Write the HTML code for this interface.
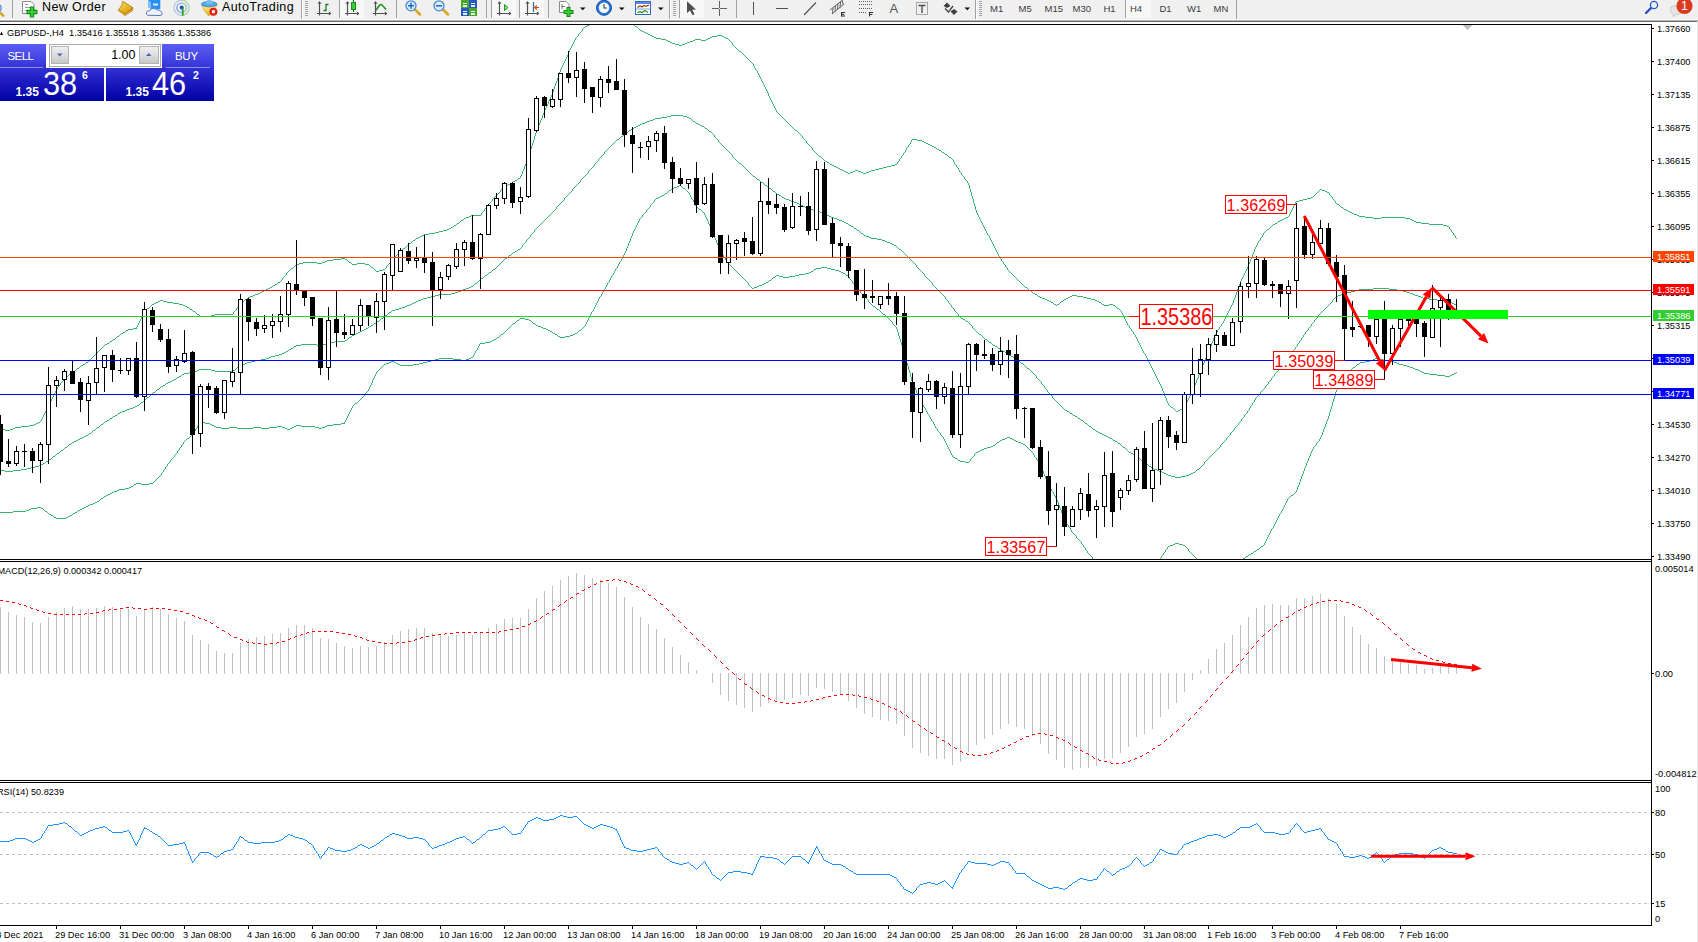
<!DOCTYPE html>
<html><head><meta charset="utf-8"><title>GBPUSD-,H4</title>
<style>
html,body{margin:0;padding:0;background:#fff;}
body{width:1698px;height:942px;position:relative;overflow:hidden;font-family:"Liberation Sans",sans-serif;color:#000;}
.ax{position:absolute;font-size:9.25px;line-height:10px;white-space:nowrap;color:#000;}
.rl{position:absolute;color:#FF0000;text-align:center;white-space:nowrap;}
.tb{position:absolute;left:0;top:0;width:1698px;height:20px;background:#f0f0f0;}
.tt{position:absolute;white-space:nowrap;color:#000;}
.tf{position:absolute;font-size:9.5px;line-height:12px;top:2.7px;color:#3c3c3c;white-space:nowrap;}
.pn{position:absolute;color:#fff;white-space:nowrap;}
</style></head><body>
<svg width="1698" height="942" viewBox="0 0 1698 942" style="position:absolute;left:0;top:0" shape-rendering="crispEdges">
<defs><clipPath id="cm"><rect x="0" y="25" width="1651" height="534"/></clipPath><clipPath id="c2"><rect x="0" y="562" width="1651" height="218"/></clipPath><clipPath id="c3"><rect x="0" y="783" width="1651" height="142"/></clipPath></defs>
<g clip-path="url(#cm)"><g shape-rendering="crispEdges"><path d="M264 290.5h2M1029 290.5h2M333 259.5h8M345 259.5h2M250 296.5h3M1038 296.5h2M1070 296.5h2M1077 296.5h6M840 169.5h2M875 169.5h4M466 217.5h3M1286 217.5h2M1365 217.5h8M1381 217.5h24M1282 219.5h2M1410 219.5h2M469 216.5h2M1359 216.5h6M424 234.5h5M187 307.5h2M451 227.5h2M1311 197.5h2M303 262.5h14M322 262.5h3M349 262.5h2M200 316.5h11M848 173.5h2M863 173.5h3M670 42.5h2M687 42.5h3M917 140.5h5M1273 224.5h2M1429 224.5h14M1180 409.5h2M154 303.5h2M173 303.5h6M661 39.5h5M695 39.5h6M706 39.5h2M183 305.5h2M1104 305.5h5M1113 305.5h2M248 297.5h2M1040 297.5h2M1068 297.5h2M1083 297.5h4M255 294.5h3M1035 294.5h2M1176 411.5h2M439 231.5h4M515 180.5h2M606 14.5h2M622 14.5h2M299 263.5h4M317 263.5h5M357 263.5h8M409 243.5h2M844 171.5h2M853 171.5h2M858 171.5h3M869 171.5h2M5 430.5h5M156 302.5h2M167 302.5h6M241 302.5h2M1051 302.5h2M1099 302.5h2M846 172.5h2M850 172.5h3M861 172.5h2M866 172.5h3M838 168.5h2M879 168.5h4M457 223.5h2M1275 223.5h2M1421 223.5h8M117 336.5h2M842 170.5h2M855 170.5h3M871 170.5h4M152 304.5h2M179 304.5h4M1054 304.5h2M1057 304.5h2M1102 304.5h2M1109 304.5h4M86 362.5h2M939 150.5h2M197 314.5h2M215 314.5h18M654 37.5h2M710 37.5h2M724 37.5h2M211 315.5h4M126 330.5h2M296 264.5h3M352 264.5h5M365 264.5h4M675 44.5h4M682 44.5h3M1303 199.5h4M1354 214.5h3M825 161.5h2M160 300.5h3M1047 300.5h2M1095 300.5h2M245 299.5h2M1045 299.5h2M1064 299.5h2M1091 299.5h4M1350 212.5h2M827 162.5h2M1352 213.5h2M376 271.5h3M1344 209.5h2M147 308.5h2M1117 308.5h2M193 311.5h2M590 23.5h2M158 301.5h2M163 301.5h4M1049 301.5h2M1061 301.5h2M1097 301.5h2M608 13.5h3M620 13.5h2M949 157.5h2M504 186.5h2M0 429.5h5M10 429.5h3M69 374.5h2M652 36.5h2M712 36.5h5M722 36.5h2M668 41.5h2M690 41.5h3M1447 226.5h2M81 365.5h2M834 166.5h2M887 166.5h4M341 258.5h4M77 368.5h2M471 215.5h10M1357 215.5h2M795 130.5h2M672 43.5h3M685 43.5h2M945 154.5h2M327 260.5h6M461 220.5h2M1280 220.5h2M1412 220.5h2M34 424.5h2M1042 298.5h3M1066 298.5h2M1087 298.5h4M1296 201.5h3M422 235.5h2M600 17.5h2M912 139.5h5M21 426.5h8M383 269.5h2M253 295.5h2M1072 295.5h5M932 146.5h2M830 164.5h2M895 164.5h2M464 218.5h2M1284 218.5h2M1373 218.5h8M1405 218.5h5M1348 211.5h2M1320 189.5h2M418 237.5h2M1341 207.5h2M185 306.5h2M403 248.5h2M666 40.5h2M693 40.5h2M701 40.5h5M443 230.5h4M123 332.5h2M656 38.5h5M708 38.5h2M726 38.5h2M1299 200.5h4M371 267.5h2M1337 204.5h2M518 178.5h2M942 152.5h2M420 236.5h2M379 270.5h4M435 232.5h4M602 16.5h2M278 282.5h2M1416 222.5h5M934 147.5h2M447 229.5h2M1267 229.5h2M105 344.5h2M836 167.5h2M883 167.5h4M1346 210.5h2M416 238.5h2M924 142.5h2M1325 191.5h2M1182 408.5h2M429 233.5h6M29 425.5h5M291 268.5h2M1178 410.5h2M930 145.5h2M15 427.5h6M273 285.5h2M65 377.5h2M1307 198.5h4M922 141.5h2M133 328.5h4M928 144.5h2M128 329.5h5M113 339.5h2M587 25.5h2M510 183.5h2M819 156.5h2M615 11.5h3M1278 221.5h2M1414 221.5h2M190 309.5h2M679 45.5h3M611 12.5h4M618 12.5h2M648 34.5h2M832 165.5h2M891 165.5h4M110 341.5h2M650 35.5h2M717 35.5h5M454 225.5h2M1443 225.5h4M258 293.5h2M1033 293.5h2M598 18.5h2M83 364.5h2M270 287.5h2M1025 287.5h2M926 143.5h2M595 20.5h2M604 15.5h2M642 31.5h2M413 240.5h2M1327 192.5h2M593 21.5h2M640 30.5h2M266 289.5h2M325 261.5h2M937 149.5h2M107 343.5h2M260 292.5h2M1322 190.5h3M121 333.5h2M268 288.5h2M646 33.5h2M585 26.5h2M635 26.5h2M644 32.5h2M13 428.5h2M262 291.5h2M739 51.5h2M73 371.5h2M1171 407.5h2M508 184.5h2M275 284.5h2M38 422.5h2M449 228.5h2M513 181.5h2M506 185.5h2M36 423.5h2M806.5 141v2M900.5 158v1M1134.5 334v1M750.5 61v1M1194.5 385v3M758.5 73v2M956.5 165v2M1155.5 374v2M1339.5 205v1M953.5 160v2M1230.5 307v2M751.5 62v1M548.5 101v3M985.5 229v2M1188.5 398v2M1210.5 346v2M1156.5 376v2M772.5 102v2M373.5 268v1M45.5 411v2M812.5 148v2M284.5 276v1M1270.5 227v1M568.5 52v3M1246.5 269v2M112.5 340v1M907.5 147v1M1166.5 398v3M496.5 195v1M104.5 345v1M1018.5 280v1M1213.5 338v3M402.5 249v1M978.5 215v2M634.5 25v1M1193.5 388v2M234.5 311v1M116.5 337v1M1202.5 365v3M999.5 256v2M971.5 192v4M1010.5 272v1M392.5 259v1M1229.5 309v2M1184.5 406v2M626.5 17v1M41.5 419v2M1331.5 196v1M1163.5 391v2M56.5 389v2M536.5 130v3M764.5 85v2M1126.5 321v2M903.5 153v2M974.5 203v3M1254.5 249v3M1116.5 307v1M1129.5 326v2M1332.5 197v2M1137.5 339v2M761.5 79v2M732.5 43v2M92.5 357v1M959.5 170v2M1335.5 201v2M387.5 265v1M531.5 146v3M1158.5 380v2M143.5 313v2M543.5 113v2M1119.5 309v1M911.5 140v2M390.5 261v2M527.5 159v2M49.5 403v2M1122.5 313v2M1201.5 368v2M805.5 140v1M754.5 66v2M738.5 50v1M952.5 159v1M1017.5 279v1M960.5 172v1M488.5 204v1M1225.5 317v2M757.5 71v2M775.5 108v2M1059.5 303v1M1237.5 289v3M633.5 24v1M1262.5 235v2M1123.5 315v2M981.5 221v2M1217.5 330v2M539.5 123v2M523.5 169v2M1152.5 368v2M1241.5 279v2M563.5 63v2M526.5 161v3M1165.5 396v2M779.5 114v1M237.5 307v1M1233.5 300v3M530.5 149v4M406.5 246v1M1200.5 370v3M1024.5 286v1M1003.5 262v2M1316.5 193v1M1221.5 324v2M1258.5 241v2M399.5 252v1M996.5 250v2M899.5 159v2M547.5 104v2M138.5 323v2M786.5 121v1M1115.5 306v1M1162.5 388v3M1192.5 390v2M1136.5 337v2M970.5 189v3M731.5 42v1M760.5 77v2M456.5 224v1M560.5 69v3M1245.5 271v2M1133.5 332v2M99.5 350v1M44.5 413v2M572.5 44v2M984.5 227v2M146.5 309v1M753.5 64v2M1212.5 341v2M771.5 100v2M774.5 106v2M980.5 219v2M910.5 142v2M1292.5 208v2M535.5 133v3M1151.5 366v2M75.5 370v1M973.5 199v4M244.5 300v1M534.5 136v4M815.5 152v1M40.5 421v1M1253.5 252v2M559.5 72v3M1204.5 360v3M797.5 131v1M768.5 93v3M142.5 315v2M816.5 153v1M64.5 378v1M538.5 125v3M503.5 187v1M386.5 266v2M1224.5 319v2M542.5 115v3M1236.5 292v3M576.5 37v1M295.5 265v1M948.5 156v1M1187.5 400v2M1209.5 348v2M995.5 248v2M1132.5 331v1M1334.5 200v1M558.5 75v3M199.5 315v1M1272.5 225v1M567.5 55v2M1252.5 254v3M746.5 57v1M498.5 193v1M1053.5 303v1M807.5 143v1M525.5 164v2M233.5 312v2M150.5 306v1M236.5 308v2M397.5 254v1M1265.5 231v1M962.5 175v1M460.5 221v1M983.5 225v2M808.5 144v1M394.5 257v1M770.5 98v2M1154.5 372v2M1208.5 350v3M55.5 391v2M814.5 151v1M793.5 128v1M79.5 367v1M566.5 57v2M977.5 213v2M137.5 325v2M555.5 83v3M94.5 355v1M998.5 254v2M1191.5 392v2M785.5 120v1M48.5 405v2M1001.5 259v2M944.5 153v1M745.5 56v1M579.5 33v1M582.5 29v2M1020.5 282v1M522.5 171v3M490.5 202v1M571.5 46v2M1240.5 281v3M1002.5 261v1M1216.5 332v2M639.5 29v1M1012.5 274v1M562.5 65v2M1291.5 210v2M628.5 19v1M482.5 212v1M897.5 162v2M517.5 179v1M734.5 46v1M554.5 86v3M529.5 153v3M969.5 185v4M906.5 148v2M792.5 127v1M1203.5 363v2M1124.5 317v2M958.5 168v2M283.5 277v1M286.5 273v2M756.5 70v1M533.5 140v3M1153.5 370v2M1121.5 311v2M979.5 217v2M1340.5 206v1M1150.5 364v2M537.5 128v2M1228.5 311v2M546.5 106v2M1220.5 326v1M374.5 269v1M1164.5 393v3M1244.5 273v2M43.5 415v2M101.5 348v1M976.5 210v3M1211.5 343v3M389.5 263v1M997.5 252v2M1147.5 358v2M1005.5 265v2M1295.5 202v2M351.5 263v1M627.5 18v1M85.5 363v1M54.5 393v2M501.5 189v1M1318.5 191v1M1135.5 335v2M975.5 206v4M759.5 75v2M821.5 157v1M485.5 208v1M89.5 360v1M1232.5 303v2M141.5 317v2M408.5 244v1M565.5 59v2M752.5 63v1M1199.5 373v2M239.5 304v2M755.5 68v2M773.5 104v2M1223.5 321v2M961.5 173v2M1235.5 295v3M909.5 144v1M553.5 89v3M412.5 241v1M1168.5 403v2M401.5 250v1M578.5 34v2M982.5 223v2M50.5 401v2M243.5 301v1M521.5 174v2M1019.5 281v1M769.5 96v2M570.5 48v2M1239.5 284v3M557.5 78v3M1251.5 257v2M1450.5 229v1M1000.5 258v1M405.5 247v1M972.5 196v3M120.5 334v1M561.5 67v2M1186.5 402v2M524.5 166v3M493.5 198v1M1290.5 212v2M1198.5 375v3M481.5 213v2M936.5 148v1M1004.5 264v1M1146.5 356v2M799.5 133v1M905.5 150v2M98.5 351v1M1234.5 298v2M282.5 278v2M1271.5 226v1M532.5 143v3M369.5 265v1M1238.5 287v2M1336.5 203v1M1250.5 259v3M1227.5 313v2M545.5 108v2M370.5 266v1M1219.5 327v2M964.5 177v2M1063.5 300v1M1243.5 275v2M965.5 179v1M780.5 115v1M968.5 183v2M290.5 269v1M1167.5 401v2M1449.5 227v2M1149.5 362v2M58.5 386v1M347.5 260v1M544.5 110v3M1313.5 196v1M61.5 382v1M1215.5 334v2M500.5 190v2M798.5 132v1M285.5 275v1M817.5 154v1M1142.5 349v2M766.5 89v2M787.5 122v1M109.5 342v1M140.5 319v2M624.5 15v1M1329.5 193v2M993.5 244v2M235.5 310v1M396.5 255v1M556.5 81v2M552.5 92v3M1190.5 394v2M736.5 48v1M963.5 176v1M1294.5 204v2M592.5 22v1M581.5 31v1M584.5 27v1M136.5 327v1M93.5 356v1M492.5 199v2M809.5 145v1M1206.5 355v3M1453.5 233v2M53.5 395v2M247.5 298v1M1148.5 360v2M68.5 375v1M388.5 264v1M484.5 209v2M1145.5 354v2M487.5 205v2M1007.5 268v2M1226.5 315v2M288.5 271v1M1101.5 303v1M1247.5 267v2M1141.5 347v2M765.5 87v2M908.5 145v2M747.5 58v1M1317.5 192v1M192.5 310v1M992.5 242v2M512.5 182v1M96.5 353v1M1013.5 275v1M569.5 50v2M280.5 281v1M629.5 20v1M407.5 245v1M540.5 120v3M1127.5 323v2M272.5 286v1M1269.5 228v1M1185.5 404v2M1014.5 276v1M1289.5 214v2M495.5 196v1M1197.5 378v2M1222.5 323v1M630.5 21v1M57.5 387v2M967.5 181v2M115.5 338v1M794.5 129v1M453.5 226v1M1451.5 230v2M391.5 260v1M1170.5 406v1M1452.5 232v1M72.5 372v1M551.5 95v2M1021.5 283v1M1173.5 408v1M728.5 39v1M1196.5 380v3M196.5 313v1M76.5 369v1M564.5 61v2M1242.5 277v2M1006.5 267v1M238.5 306v1M80.5 366v1M1189.5 396v2M1293.5 206v2M735.5 47v1M103.5 346v1M1159.5 382v2M60.5 383v2M411.5 242v1M1205.5 358v2M941.5 151v1M52.5 397v2M1257.5 243v2M575.5 38v2M1277.5 222v1M119.5 335v1M966.5 180v1M375.5 270v1M195.5 312v1M1455.5 236v2M100.5 349v1M398.5 253v1M1169.5 405v1M1266.5 230v1M782.5 117v1M91.5 358v1M348.5 261v1M1249.5 262v2M499.5 192v1M1261.5 237v1M1143.5 351v2M767.5 91v2M902.5 155v1M1032.5 292v1M1144.5 353v1M994.5 246v2M800.5 134v1M991.5 240v2M637.5 27v1M88.5 361v1M822.5 158v1M801.5 135v1M1248.5 264v3M987.5 233v2M47.5 407v2M790.5 125v1M823.5 159v1M63.5 379v2M1315.5 194v1M988.5 235v1M1028.5 289v1M1031.5 291v1M502.5 188v1M781.5 116v1M385.5 268v1M741.5 52v1M1454.5 235v1M483.5 211v1M742.5 53v1M145.5 310v1M1008.5 270v1M1140.5 345v2M149.5 307v1M1009.5 271v1M1264.5 232v1M788.5 123v1M1161.5 386v2M1207.5 353v2M459.5 222v1M95.5 354v1M625.5 16v1M789.5 124v1M583.5 28v1M1125.5 319v2M491.5 201v1M1288.5 216v1M494.5 197v1M550.5 97v2M749.5 60v1M1195.5 383v2M1027.5 288v1M294.5 266v1M1260.5 238v2M811.5 147v1M1016.5 278v1M898.5 161v1M486.5 207v1M632.5 23v1M287.5 272v1M1319.5 190v1M1231.5 305v2M818.5 155v1M51.5 399v2M1256.5 245v2M1330.5 195v1M574.5 40v2M497.5 194v1M1175.5 410v1M1139.5 343v2M125.5 331v1M520.5 176v2M763.5 83v2M463.5 219v1M1160.5 384v2M803.5 138v1M102.5 347v1M748.5 59v1M990.5 238v2M393.5 258v1M804.5 139v1M42.5 417v2M737.5 49v1M951.5 158v1M954.5 162v2M901.5 156v2M810.5 146v1M955.5 164v1M1056.5 305v1M144.5 311v2M67.5 376v1M528.5 156v3M778.5 113v1M90.5 359v1M71.5 373v1M240.5 303v1M1174.5 409v1M729.5 40v1M549.5 99v2M1023.5 285v1M802.5 136v2M730.5 41v1M829.5 163v1M762.5 81v2M947.5 155v1M1128.5 325v1M986.5 231v2M577.5 36v1M400.5 251v1M1214.5 336v2M1015.5 277v1M1333.5 199v1M989.5 236v2M1314.5 195v1M1157.5 378v2M59.5 385v1M1037.5 295v1M824.5 160v1M776.5 110v2M631.5 22v1M541.5 118v2M139.5 321v2M489.5 203v1M777.5 112v1M1060.5 302v1M277.5 283v1M1263.5 233v2M151.5 305v1M904.5 152v1M97.5 352v1M1255.5 247v2M573.5 42v2M1456.5 238v1M1022.5 284v1M281.5 280v1M597.5 19v1M1343.5 208v1M783.5 118v1M589.5 24v1M1131.5 329v2M46.5 409v2M1138.5 341v2M784.5 119v1M744.5 55v1M62.5 381v1M415.5 239v1M289.5 270v1M791.5 126v1M293.5 267v1M1259.5 240v1M957.5 167v1M813.5 150v1M1120.5 310v1M395.5 256v1M1218.5 329v1M743.5 54v1M638.5 28v1M580.5 32v1M1130.5 328v1M733.5 45v1M189.5 308v1M1011.5 273v1" fill="none" stroke="#3CB371" stroke-width="1"/><path d="M242 364.5h3M653 119.5h2M1129 452.5h2M885 241.5h2M170 381.5h2M451 293.5h4M1343 293.5h4M1410 293.5h3M147 397.5h2M1168 475.5h3M1186 475.5h3M296 345.5h5M317 345.5h6M993 345.5h2M421 299.5h2M1429 299.5h8M366 328.5h2M197 370.5h2M211 370.5h4M233 370.5h2M481 278.5h2M671 115.5h12M642 123.5h3M696 123.5h2M289 349.5h2M86 435.5h2M1104 435.5h2M179 376.5h2M466 288.5h3M1373 288.5h16M1166 474.5h2M1189 474.5h2M194 371.5h3M215 371.5h18M82 437.5h2M1108 437.5h2M349 337.5h2M5 471.5h8M1159 471.5h3M271 356.5h4M1011 356.5h2M301 344.5h16M323 344.5h4M435 295.5h4M1338 295.5h3M1415 295.5h3M489 272.5h2M887 242.5h3M127 409.5h3M74 441.5h2M1115 441.5h2M247 362.5h4M625 133.5h2M799 204.5h2M461 290.5h2M1355 290.5h4M1397 290.5h6M423 298.5h4M1423 298.5h6M791 201.5h3M335 341.5h10M153 392.5h2M757 179.5h2M65 447.5h2M1123 447.5h2M43 463.5h2M1145 463.5h2M458 291.5h3M1351 291.5h4M1403 291.5h4M327 343.5h4M463 289.5h3M1359 289.5h14M1389 289.5h8M515 251.5h2M21 469.5h6M1154 469.5h3M1197 469.5h2M377 321.5h2M966 321.5h2M177 377.5h2M80 438.5h2M1110 438.5h2M1102 434.5h2M275 355.5h4M1009 355.5h2M407 305.5h3M392 310.5h3M1096 431.5h2M844 222.5h2M455 292.5h3M1347 292.5h4M1407 292.5h3M286 351.5h2M1003 351.5h2M753 176.5h2M161 386.5h2M892 244.5h2M414 302.5h2M1450 302.5h2M360 331.5h2M831 217.5h3M849 225.5h2M31 467.5h4M105 421.5h2M356 333.5h2M251 361.5h4M157 389.5h2M632 128.5h2M705 128.5h2M27 468.5h4M1152 468.5h2M661 117.5h6M687 117.5h2M882 240.5h3M76 440.5h2M1113 440.5h2M469 287.5h2M49 459.5h2M172 380.5h2M650 120.5h3M291 348.5h2M998 348.5h2M786 199.5h3M354 334.5h2M979 334.5h2M266 358.5h3M1014 358.5h2M125 410.5h2M1065 410.5h2M794 202.5h3M842 221.5h2M369 326.5h2M617 139.5h2M137 405.5h2M834 218.5h3M184 373.5h5M471 286.5h2M493 269.5h2M894 245.5h2M389 312.5h2M101 424.5h2M402 307.5h3M1093 429.5h2M509 255.5h2M789 200.5h2M761 182.5h2M168 382.5h2M1175 477.5h6M638 125.5h2M700 125.5h2M110 418.5h2M1078 418.5h2M667 116.5h4M683 116.5h4M439 294.5h12M1341 294.5h2M1413 294.5h2M61 450.5h2M237 367.5h2M877 239.5h5M107 420.5h2M1081 420.5h2M89 433.5h2M1100 433.5h2M963 319.5h2M640 124.5h2M698 124.5h2M84 436.5h2M1106 436.5h2M829 216.5h2M820 212.5h2M854 228.5h2M822 213.5h2M269 357.5h2M374 323.5h2M431 296.5h4M1336 296.5h2M1418 296.5h3M93 430.5h2M765 185.5h2M797 203.5h2M416 301.5h2M1445 301.5h5M174 379.5h2M808 209.5h5M1162 472.5h2M1193 472.5h2M53 456.5h2M655 118.5h6M689 118.5h2M629 130.5h2M72 442.5h2M0 470.5h5M13 470.5h8M1157 470.5h2M1118 443.5h2M779 195.5h2M113 416.5h2M1075 416.5h2M1171 476.5h4M1181 476.5h5M405 306.5h2M133 407.5h2M769 188.5h2M352 335.5h2M57 453.5h2M1131 453.5h2M427 297.5h4M1421 297.5h2M1089 426.5h2M1098 432.5h2M475 283.5h2M199 369.5h12M331 342.5h4M989 342.5h2M773 191.5h2M782 197.5h2M135 406.5h2M826 215.5h3M505 258.5h2M1001 350.5h2M837 219.5h2M513 252.5h2M1134 455.5h2M869 237.5h2M784 198.5h2M621 136.5h2M485 275.5h2M890 243.5h2M371 325.5h2M130 408.5h3M189 372.5h5M261 359.5h5M412 303.5h2M1452 303.5h2M358 332.5h2M141 402.5h2M1164 473.5h2M1191 473.5h2M39 465.5h2M35 466.5h4M1149 466.5h2M395 309.5h4M871 238.5h6M709 131.5h2M115 415.5h2M1073 415.5h2M1137 457.5h2M824 214.5h2M813 210.5h5M69 444.5h2M381 318.5h2M961 318.5h2M46 461.5h2M97 427.5h2M362 330.5h2M345 340.5h2M399 308.5h3M122 411.5h3M1067 411.5h2M78 439.5h2M120 412.5h2M41 464.5h2M857 230.5h2M163 385.5h2M777 194.5h2M294 346.5h2M995 346.5h2M846 223.5h2M1141 460.5h2M240 365.5h2M636 126.5h2M702 126.5h2M118 413.5h2M1070 413.5h2M645 122.5h2M818 211.5h2M647 121.5h3M693 121.5h2M166 383.5h2M866 236.5h3M839 220.5h3M801 205.5h2M284 352.5h2M364 329.5h2M418 300.5h3M1437 300.5h8M182 374.5h2M410 304.5h2M1454 304.5h2M255 360.5h6M1017 360.5h2M279 354.5h3M851 226.5h2M861 233.5h2M806 208.5h2M1085 423.5h2M739 163.5h2M634 127.5h2M245 363.5h2M1021 363.5h2M864 235.5h2M518 249.5h2M899 249.5h2M385 315.5h2M1027 368.5h2M282 353.5h2M1006 353.5h2M985 339.5h2M803 206.5h2M692.5 120v1M732.5 155v2M997.5 347v1M1214.5 452v1M521.5 247v1M714.5 135v2M848.5 224v1M733.5 157v1M978.5 333v1M1270.5 380v1M1202.5 465v1M1246.5 413v1M1049.5 393v1M580.5 180v2M603.5 154v1M718.5 140v2M750.5 173v1M537.5 227v1M1241.5 419v2M751.5 174v1M1265.5 386v2M1056.5 401v1M572.5 189v2M575.5 186v1M1199.5 468v1M934.5 286v1M724.5 147v1M529.5 237v1M1037.5 378v1M532.5 233v1M1281.5 366v1M725.5 148v1M1038.5 379v1M117.5 414v1M109.5 419v1M1305.5 332v2M524.5 243v1M1044.5 386v2M971.5 325v1M1063.5 408v1M941.5 293v1M615.5 141v1M1273.5 376v1M904.5 253v1M1276.5 372v1M239.5 366v1M1332.5 300v2M926.5 277v1M564.5 198v2M587.5 173v1M1289.5 355v2M159.5 388v1M948.5 301v2M927.5 278v1M544.5 220v1M1019.5 361v1M1301.5 338v2M717.5 139v1M1030.5 370v1M1313.5 322v1M952.5 307v1M1284.5 362v1M970.5 324v1M1229.5 435v1M1253.5 402v1M497.5 266v1M1148.5 465v1M1308.5 328v2M863.5 234v1M918.5 268v1M595.5 163v1M1324.5 309v1M776.5 193v1M940.5 292v1M988.5 341v1M919.5 269v1M1048.5 392v1M619.5 138v1M139.5 404v1M547.5 217v1M567.5 195v1M1029.5 369v1M1249.5 408v2M590.5 169v1M1292.5 351v2M731.5 154v1M1237.5 425v1M51.5 458v1M1264.5 388v1M606.5 150v1M473.5 285v1M1244.5 415v2M1209.5 457v1M1316.5 318v1M535.5 229v1M911.5 260v1M598.5 159v2M504.5 259v1M559.5 204v1M579.5 182v1M388.5 313v1M373.5 324v1M582.5 178v1M1331.5 302v1M1025.5 366v1M146.5 398v1M1224.5 441v1M1095.5 430v1M143.5 401v1M1047.5 390v2M554.5 210v1M1201.5 466v1M480.5 279v1M1221.5 444v1M746.5 169v1M1295.5 347v2M1143.5 461v1M613.5 143v1M910.5 259v1M477.5 282v1M719.5 142v1M1252.5 403v2M88.5 434v1M1144.5 462v1M1319.5 314v1M951.5 305v2M1216.5 450v1M551.5 213v1M571.5 191v1M954.5 309v2M720.5 143v1M1125.5 448v1M594.5 164v2M772.5 190v1M1232.5 431v1M92.5 431v1M1077.5 417v1M1299.5 341v2M542.5 222v1M1036.5 376v2M984.5 338v1M955.5 311v1M1311.5 324v2M1126.5 449v1M1256.5 397v1M1334.5 298v1M1058.5 403v1M508.5 256v1M1072.5 414v1M1091.5 427v1M523.5 244v1M150.5 395v1M512.5 253v1M1204.5 462v2M1272.5 377v1M539.5 225v1M973.5 328v1M1456.5 305v1M1240.5 421v1M1243.5 417v1M484.5 276v1M965.5 320v1M628.5 131v1M734.5 158v1M499.5 264v1M488.5 273v1M574.5 187v1M928.5 279v1M1020.5 362v1M1326.5 307v1M735.5 159v1M492.5 270v1M64.5 448v1M1307.5 330v1M1283.5 363v1M96.5 428v1M526.5 240v2M45.5 462v1M972.5 326v2M935.5 287v1M1278.5 369v2M68.5 445v1M100.5 425v1M608.5 148v1M1275.5 373v1M936.5 288v1M1139.5 458v1M1039.5 380v1M566.5 196v1M1120.5 444v1M1140.5 459v1M586.5 174v1M727.5 150v1M767.5 186v1M534.5 230v2M942.5 294v1M921.5 271v1M1050.5 394v1M1121.5 445v1M768.5 187v1M1286.5 359v2M943.5 295v1M1298.5 343v1M561.5 202v1M1208.5 458v1M1310.5 326v1M953.5 308v1M379.5 320v1M752.5 175v1M1255.5 398v2M597.5 161v1M1057.5 402v1M1087.5 424v1M383.5 317v1M1226.5 438v2M1069.5 412v1M726.5 149v1M592.5 167v1M920.5 270v1M546.5 218v1M1196.5 470v1M1064.5 409v1M1318.5 315v2M1321.5 312v1M741.5 164v1M1263.5 389v1M905.5 254v1M605.5 151v1M711.5 132v1M1211.5 455v1M1016.5 359v1M1234.5 428v2M906.5 255v1M589.5 170v1M1258.5 395v1M600.5 157v1M1031.5 371v1M781.5 196v1M912.5 261v1M584.5 176v1M152.5 393v1M503.5 260v1M176.5 378v1M387.5 314v1M913.5 262v1M1330.5 303v1M156.5 390v1M1333.5 299v1M145.5 399v1M763.5 183v1M556.5 207v2M391.5 311v1M1203.5 464v1M1223.5 442v1M1266.5 385v1M160.5 387v1M957.5 313v1M553.5 211v1M149.5 396v1M479.5 280v1M623.5 135v1M1294.5 349v1M612.5 144v1M1297.5 344v2M1042.5 384v1M1218.5 448v1M483.5 277v1M1112.5 439v1M55.5 455v1M1083.5 421v1M975.5 330v1M945.5 297v2M1008.5 354v1M91.5 432v1M541.5 223v1M859.5 231v1M946.5 299v1M1304.5 334v1M736.5 160v1M522.5 245v2M748.5 171v1M236.5 368v1M525.5 242v1M860.5 232v1M1206.5 460v1M737.5 161v1M1274.5 374v2M707.5 129v1M1041.5 382v2M604.5 152v2M956.5 312v1M722.5 145v1M1127.5 450v1M520.5 248v1M1026.5 367v1M974.5 329v1M937.5 289v1M1242.5 418v1M1269.5 381v1M1254.5 400v2M576.5 185v1M938.5 290v1M1328.5 305v1M498.5 265v1M533.5 232v1M747.5 170v1M1325.5 308v1M1261.5 391v1M1052.5 396v2M729.5 152v1M627.5 132v1M1309.5 327v1M759.5 180v1M528.5 238v1M548.5 216v1M59.5 452v1M610.5 146v1M721.5 144v1M1277.5 371v1M347.5 339v1M607.5 149v1M1213.5 453v1M930.5 281v1M1059.5 404v1M568.5 194v1M351.5 336v1M588.5 171v2M501.5 262v1M1092.5 428v1M1060.5 405v1M901.5 250v1M536.5 228v1M728.5 151v1M563.5 200v1M1245.5 414v1M1285.5 361v1M1288.5 357v1M1210.5 456v1M1230.5 433v2M1233.5 430v1M1300.5 340v1M1045.5 388v1M907.5 256v1M1312.5 323v1M856.5 229v1M631.5 129v1M599.5 158v1M1051.5 395v1M1280.5 367v1M1122.5 446v1M929.5 280v1M908.5 257v1M1225.5 440v1M695.5 122v1M1000.5 349v1M944.5 296v1M151.5 394v1M140.5 403v1M591.5 168v1M1033.5 373v1M1323.5 310v1M112.5 417v1M474.5 284v1M104.5 422v1M288.5 350v1M1248.5 410v1M1040.5 381v1M959.5 316v1M1260.5 392v2M602.5 155v1M1217.5 449v1M922.5 272v1M712.5 133v1M560.5 203v1M691.5 119v1M583.5 177v1M496.5 267v1M531.5 234v1M713.5 134v1M1335.5 297v1M896.5 246v1M1268.5 382v2M1088.5 425v1M1032.5 372v1M1271.5 378v2M555.5 209v1M558.5 205v1M578.5 183v1M958.5 314v2M1205.5 461v1M981.5 335v1M614.5 142v1M992.5 344v1M1136.5 456v1M914.5 263v1M1220.5 445v2M933.5 285v1M1296.5 346v1M1320.5 313v1M1117.5 442v1M764.5 184v1M1200.5 467v1M915.5 264v1M742.5 165v1M1291.5 353v1M1236.5 426v1M543.5 221v1M1303.5 335v2M1151.5 467v1M1315.5 319v1M570.5 192v1M1228.5 436v1M235.5 369v1M1231.5 432v1M1084.5 422v1M991.5 343v1M749.5 172v1M1133.5 454v1M1054.5 399v1M932.5 283v2M507.5 257v1M155.5 391v1M947.5 300v1M805.5 207v1M1055.5 400v1M1212.5 454v1M511.5 254v1M500.5 263v1M738.5 162v1M708.5 130v1M376.5 322v1M1327.5 306v1M1239.5 422v1M181.5 375v1M1013.5 357v1M1251.5 405v1M1043.5 385v1M530.5 235v2M1062.5 407v1M550.5 214v1M924.5 274v2M487.5 274v1M573.5 188v1M903.5 252v1M976.5 331v1M527.5 239v1M987.5 340v1M609.5 147v1M925.5 276v1M1279.5 368v1M1215.5 451v1M715.5 137v1M977.5 332v1M95.5 429v1M1053.5 398v1M1247.5 411v2M716.5 138v1M581.5 179v1M99.5 426v1M760.5 181v1M538.5 226v1M916.5 265v2M368.5 327v1M723.5 146v1M562.5 201v1M1128.5 451v1M968.5 322v1M565.5 197v1M1147.5 464v1M1287.5 358v1M380.5 319v1M1314.5 320v2M917.5 267v1M1259.5 394v1M601.5 156v1M969.5 323v1M775.5 192v1M1061.5 406v1M1282.5 364v2M1080.5 419v1M939.5 291v1M384.5 316v1M902.5 251v1M491.5 271v1M1306.5 331v1M593.5 166v1M165.5 384v1M730.5 153v1M596.5 162v1M616.5 140v1M495.5 268v1M1046.5 389v1M63.5 449v1M1322.5 311v1M48.5 460v1M620.5 137v1M1267.5 384v1M909.5 258v1M704.5 127v1M103.5 423v1M577.5 184v1M949.5 303v1M1238.5 423v2M52.5 457v1M545.5 219v1M931.5 282v1M1250.5 406v2M950.5 304v1M1317.5 317v1M1034.5 374v1M1219.5 447v1M1262.5 390v1M56.5 454v1M983.5 337v1M1035.5 375v1M585.5 175v1M1290.5 354v1M853.5 227v1M1005.5 352v1M1024.5 365v1M1302.5 337v1M755.5 177v1M348.5 338v1M744.5 167v1M756.5 178v1M1207.5 459v1M923.5 273v1M1227.5 437v1M502.5 261v1M745.5 168v1M557.5 206v1M67.5 446v1M1329.5 304v1M624.5 134v1M144.5 400v1M1195.5 471v1M897.5 247v1M1222.5 443v1M71.5 443v1M771.5 189v1M552.5 212v1M478.5 281v1M898.5 248v1M60.5 451v1M1293.5 350v1M982.5 336v1M611.5 145v1M1235.5 427v1M960.5 317v1M1023.5 364v1M549.5 215v1M569.5 193v1M743.5 166v1M293.5 347v1M517.5 250v1M1257.5 396v1M540.5 224v1" fill="none" stroke="#3CB371" stroke-width="1"/><path d="M525 319.5h4M960 461.5h5M435 359.5h4M453 359.5h8M466 359.5h3M1373 359.5h2M1379 359.5h4M538 326.5h3M391 361.5h3M427 361.5h4M1365 361.5h5M1389 361.5h5M117 490.5h2M821 267.5h6M997 442.5h2M1018 442.5h3M384 364.5h2M398 364.5h2M413 364.5h6M1357 364.5h2M1399 364.5h4M1249 554.5h2M1021 443.5h2M1002 439.5h3M1012 439.5h2M400 365.5h13M1403 365.5h4M835 270.5h4M355 403.5h2M1168 546.5h2M1261 546.5h2M216 427.5h5M229 427.5h8M253 427.5h8M269 427.5h8M282 427.5h3M292 427.5h2M315 427.5h4M322 427.5h3M1257 549.5h2M0 512.5h13M75 512.5h2M984 448.5h3M764 283.5h2M485 342.5h5M86 506.5h2M497 337.5h2M560 337.5h5M501 334.5h2M555 334.5h2M573 334.5h2M221 428.5h8M237 428.5h16M261 428.5h8M285 428.5h2M290 428.5h2M319 428.5h3M779 276.5h4M789 276.5h6M73 513.5h2M1229 560.5h2M1237 560.5h4M1114 575.5h2M1133 575.5h2M1226 561.5h3M90 504.5h3M439 358.5h14M469 358.5h2M1375 358.5h4M814 269.5h2M831 269.5h4M776 275.5h3M795 275.5h4M846 275.5h2M520 318.5h5M1023 444.5h2M1208 566.5h3M1173 544.5h2M1179 544.5h4M56 518.5h10M1102 565.5h2M1206 565.5h2M1120 578.5h5M517 320.5h2M529 320.5h2M431 360.5h4M461 360.5h5M1370 360.5h3M1383 360.5h6M205 423.5h5M341 423.5h4M1353 367.5h2M1410 367.5h3M389 362.5h2M394 362.5h2M423 362.5h4M1360 362.5h5M1394 362.5h3M1424 373.5h5M1454 373.5h2M980 450.5h2M1407 366.5h3M766 282.5h2M51 515.5h2M70 515.5h2M31 508.5h6M41 508.5h2M82 508.5h2M546 329.5h2M1413 368.5h2M1243 558.5h2M494 339.5h2M1429 374.5h8M1452 374.5h2M88 505.5h2M13 511.5h13M45 511.5h2M1175 543.5h4M672 188.5h2M683 188.5h2M386 363.5h3M396 363.5h2M419 363.5h4M1397 363.5h2M877 309.5h2M1254 551.5h2M136 483.5h5M149 483.5h4M212 425.5h2M296 425.5h5M327 425.5h6M26 510.5h3M78 510.5h2M29 509.5h2M80 509.5h2M754 287.5h3M104 496.5h2M134 484.5h2M141 484.5h8M558 336.5h2M565 336.5h5M993 445.5h2M656 198.5h2M978 451.5h2M1096 562.5h2M1200 562.5h2M1224 562.5h2M991 446.5h2M1445 376.5h5M1150 568.5h2M1215 568.5h2M1016 441.5h2M214 426.5h2M277 426.5h5M294 426.5h2M301 426.5h14M325 426.5h2M131 486.5h2M976 452.5h2M762 284.5h2M110 493.5h2M773 277.5h2M783 277.5h6M553 333.5h2M575 333.5h2M987 447.5h4M1100 564.5h2M1204 564.5h2M1221 564.5h2M1145 571.5h2M536 325.5h2M1420 371.5h2M541 327.5h2M669 190.5h2M811 271.5h2M839 271.5h2M49 514.5h2M106 495.5h2M1291 495.5h2M982 449.5h2M799 274.5h6M210 424.5h2M333 424.5h8M37 507.5h4M84 507.5h2M1000 440.5h2M1014 440.5h2M1112 574.5h2M1135 574.5h4M187 438.5h2M1005 438.5h2M1010 438.5h2M757 286.5h2M54 517.5h2M66 517.5h2M1007 437.5h3M1170 545.5h3M1183 545.5h2M1246 556.5h2M129 487.5h2M1415 369.5h3M809 272.5h2M841 272.5h2M550 331.5h2M816 268.5h5M827 268.5h4M1098 563.5h2M1202 563.5h2M490 341.5h2M112 492.5h2M1116 576.5h2M1130 576.5h3M769 280.5h2M287 429.5h3M1251 553.5h2M125 488.5h4M93 503.5h2M1422 372.5h2M97 501.5h2M1231 559.5h6M1241 559.5h2M752 288.5h2M1418 370.5h2M660 196.5h2M543 328.5h3M108 494.5h2M1437 375.5h8M1450 375.5h2M965 462.5h4M68 516.5h2M471 357.5h2M548 330.5h2M579 330.5h2M955 458.5h2M665 193.5h2M114 491.5h3M1143 572.5h2M1139 573.5h4M805 273.5h4M843 273.5h2M1211 567.5h4M1217 567.5h2M677 186.5h2M699 209.5h2M119 489.5h6M679 185.5h2M759 285.5h3M662 195.5h2M873 306.5h2M200 422.5h5M953 457.5h2M958 460.5h2M480 343.5h5M883 314.5h2M95 502.5h2M101 498.5h2M1147 570.5h2M674 187.5h3M1118 577.5h2M1125 577.5h5M570 335.5h3M492 340.5h2M513 323.5h2M533 323.5h2M658 197.5h2M588.5 318v2M503.5 333v1M627.5 246v2M345.5 420v2M944.5 439v2M693.5 200v2M1043.5 471v3M651.5 204v1M895.5 326v1M369.5 387v2M690.5 195v2M905.5 355v4M1296.5 490v2M1276.5 520v2M975.5 453v1M1333.5 399v3M1057.5 500v2M1349.5 371v1M906.5 359v4M72.5 514v1M196.5 428v1M1192.5 554v1M635.5 227v2M708.5 221v3M1050.5 487v2M854.5 284v1M1063.5 516v2M1305.5 466v2M165.5 467v2M1272.5 528v1M952.5 455v2M912.5 381v3M1329.5 412v4M813.5 270v1M582.5 328v1M876.5 308v1M1085.5 548v2M1075.5 535v1M1308.5 458v3M1285.5 503v2M898.5 332v4M103.5 497v1M934.5 424v2M1086.5 550v1M622.5 257v2M696.5 206v1M552.5 332v1M937.5 429v2M376.5 372v2M911.5 377v4M927.5 412v2M689.5 193v2M697.5 207v1M161.5 473v2M1304.5 468v3M1165.5 550v2M1268.5 535v2M930.5 417v2M1313.5 447v2M1042.5 469v2M173.5 457v1M707.5 219v2M1185.5 546v1M853.5 283v1M639.5 219v2M970.5 459v2M1056.5 498v2M1284.5 505v2M1320.5 437v2M507.5 329v1M722.5 254v1M618.5 264v2M180.5 447v1M1104.5 566v1M915.5 388v2M732.5 267v1M168.5 463v1M610.5 278v2M1074.5 534v1M714.5 235v3M704.5 213v2M1161.5 556v2M349.5 412v2M887.5 317v1M733.5 268v1M1049.5 485v2M908.5 366v4M1053.5 492v2M598.5 299v2M1280.5 513v1M1325.5 424v3M1198.5 560v1M614.5 271v2M894.5 325v1M606.5 285v2M897.5 329v3M692.5 199v1M1199.5 561v1M933.5 422v2M383.5 365v1M721.5 252v2M510.5 326v1M740.5 275v1M1149.5 569v1M642.5 215v2M192.5 434v1M1288.5 498v1M926.5 410v2M1030.5 450v1M360.5 399v1M1300.5 479v3M634.5 229v2M1089.5 554v1M1316.5 443v2M871.5 304v1M725.5 258v2M1153.5 566v1M1328.5 416v3M1340.5 383v2M1031.5 451v1M1034.5 455v2M1271.5 529v2M718.5 245v3M1307.5 461v2M602.5 292v2M872.5 305v1M199.5 423v2M914.5 386v2M626.5 248v3M368.5 389v2M951.5 453v2M1332.5 402v4M703.5 212v1M156.5 479v1M650.5 205v2M653.5 202v1M857.5 288v1M1275.5 522v2M974.5 454v2M1336.5 390v2M907.5 363v3M1110.5 572v1M1348.5 372v2M1267.5 537v2M1312.5 449v2M363.5 396v1M601.5 294v2M1088.5 553v1M195.5 429v2M1111.5 573v1M688.5 192v1M1295.5 492v1M864.5 296v1M625.5 251v2M1060.5 508v2M739.5 274v1M1041.5 467v2M929.5 415v2M691.5 197v2M1283.5 507v2M1319.5 439v2M882.5 313v1M176.5 453v1M720.5 250v2M1156.5 562v2M179.5 448v2M922.5 403v2M164.5 469v1M380.5 368v1M1335.5 392v4M159.5 476v1M724.5 257v1M597.5 301v2M351.5 408v2M706.5 217v2M1038.5 461v2M171.5 459v1M852.5 281v2M1051.5 489v2M589.5 316v2M746.5 281v1M900.5 339v3M183.5 442v2M621.5 259v2M1303.5 471v3M1256.5 550v1M1279.5 514v2M375.5 374v2M577.5 332v1M378.5 370v1M613.5 273v2M1248.5 555v1M505.5 331v1M1052.5 491v1M747.5 282v1M1164.5 552v1M950.5 451v2M1167.5 547v2M1062.5 513v3M935.5 426v2M593.5 309v2M638.5 221v2M1355.5 366v1M713.5 233v2M1077.5 538v1M1045.5 476v3M932.5 421v1M617.5 266v2M936.5 428v1M1087.5 551v2M374.5 376v2M1359.5 363v1M609.5 280v2M925.5 408v2M1059.5 505v3M928.5 414v1M910.5 373v4M969.5 461v1M957.5 459v1M473.5 355v2M198.5 425v1M921.5 401v2M1033.5 453v2M47.5 512v1M728.5 263v1M1343.5 378v2M584.5 326v1M358.5 401v1M702.5 211v1M1187.5 548v1M48.5 513v1M705.5 215v2M856.5 287v1M1055.5 496v2M605.5 287v2M1037.5 460v1M1076.5 536v2M899.5 336v3M1193.5 555v1M1299.5 482v3M1066.5 522v2M1048.5 483v2M1287.5 499v2M1194.5 556v1M633.5 231v2M949.5 449v2M516.5 321v1M1327.5 419v2M1339.5 385v1M1155.5 564v1M931.5 419v2M1342.5 380v2M154.5 481v1M1025.5 445v1M1306.5 463v3M712.5 230v3M1331.5 406v3M972.5 457v1M509.5 327v1M1026.5 446v1M596.5 303v2M641.5 217v1M723.5 255v2M350.5 410v2M896.5 327v2M167.5 464v2M170.5 460v2M924.5 407v1M620.5 261v1M182.5 444v1M1040.5 465v2M698.5 208v1M1302.5 474v2M632.5 233v3M727.5 261v2M1326.5 421v3M1186.5 547v1M1163.5 553v2M768.5 281v1M1266.5 539v2M719.5 248v2M557.5 335v1M592.5 311v1M637.5 223v2M855.5 285v2M1274.5 524v2M772.5 278v1M1054.5 494v2M624.5 253v2M749.5 285v1M581.5 329v1M649.5 207v1M616.5 268v1M913.5 384v2M1158.5 560v1M995.5 444v1M1047.5 481v2M888.5 318v1M1106.5 568v1M608.5 282v1M734.5 269v1M1290.5 496v1M382.5 366v1M362.5 397v1M889.5 319v1M999.5 441v1M1061.5 510v3M644.5 213v1M194.5 431v1M43.5 509v1M946.5 443v2M938.5 431v1M902.5 345v4M1270.5 531v2M185.5 440v1M923.5 405v2M1219.5 566v1M939.5 432v1M612.5 275v1M920.5 399v2M496.5 338v1M604.5 289v1M741.5 276v1M866.5 298v1M1036.5 458v2M189.5 437v1M1330.5 409v3M158.5 477v1M1039.5 463v2M1298.5 485v2M1105.5 567v1M500.5 335v1M1322.5 432v3M1032.5 452v1M667.5 192v1M909.5 370v3M587.5 320v2M917.5 393v2M748.5 283v2M1301.5 476v3M1338.5 386v2M504.5 332v1M373.5 378v2M716.5 240v3M1350.5 370v1M365.5 393v1M600.5 296v1M1282.5 509v2M77.5 511v1M197.5 426v2M1294.5 493v1M1046.5 479v2M1297.5 487v3M1318.5 441v1M178.5 450v1M1310.5 453v3M1265.5 541v2M945.5 441v2M1079.5 540v1M1223.5 563v1M353.5 405v1M1090.5 555v1M726.5 260v1M623.5 255v2M1188.5 549v2M100.5 499v1M377.5 371v1M1035.5 457v1M357.5 402v1M615.5 269v2M476.5 350v1M671.5 189v1M1166.5 549v1M1189.5 551v1M652.5 203v1M628.5 243v3M511.5 325v1M916.5 390v3M595.5 305v2M1068.5 525v2M1334.5 396v3M858.5 289v1M1269.5 533v2M619.5 262v2M948.5 447v2M181.5 445v2M153.5 482v1M611.5 276v2M647.5 209v1M1196.5 558v1M603.5 290v2M971.5 458v1M865.5 297v1M1345.5 376v1M941.5 435v1M591.5 312v2M636.5 225v2M711.5 228v2M1273.5 526v2M348.5 414v2M372.5 380v3M1321.5 435v2M583.5 327v1M1028.5 448v1M686.5 190v1M607.5 283v2M919.5 397v2M364.5 394v2M655.5 199v1M599.5 297v2M193.5 432v2M1260.5 547v1M729.5 264v1M904.5 352v3M1071.5 530v2M344.5 422v1M515.5 322v1M1195.5 557v1M1154.5 565v1M1064.5 518v2M1264.5 543v2M519.5 319v1M1078.5 539v1M947.5 445v2M160.5 475v1M631.5 236v2M352.5 406v2M169.5 462v1M172.5 458v1M736.5 271v1M53.5 516v1M940.5 433v2M586.5 322v2M901.5 342v3M891.5 321v1M1337.5 388v2M475.5 351v2M506.5 330v1M1092.5 557v2M1027.5 447v1M1093.5 559v1M1160.5 558v1M771.5 279v1M630.5 238v3M594.5 307v2M918.5 395v2M1324.5 427v2M479.5 344v2M717.5 243v2M850.5 279v1M1067.5 524v1M646.5 210v2M1070.5 528v2M1341.5 382v1M750.5 286v1M861.5 293v1M133.5 485v1M590.5 314v2M371.5 383v2M751.5 287v1M191.5 435v1M1323.5 429v3M890.5 320v1M685.5 189v1M44.5 510v1M868.5 300v2M184.5 441v1M654.5 200v2M879.5 310v1M849.5 277v2M1091.5 556v1M710.5 226v2M1352.5 368v1M367.5 391v1M743.5 278v1M1157.5 561v1M1347.5 374v1M1191.5 553v1M1107.5 569v1M735.5 270v1M860.5 291v2M163.5 470v2M643.5 214v1M1315.5 445v1M1152.5 567v1M175.5 454v1M1081.5 542v2M578.5 331v1M379.5 369v1M359.5 400v1M629.5 241v2M99.5 500v1M880.5 311v1M943.5 437v2M1278.5 516v2M867.5 299v1M742.5 277v1M478.5 346v2M1058.5 502v3M1311.5 451v2M1356.5 365v1M1259.5 548v1M1065.5 520v2M973.5 456v1M474.5 353v2M903.5 349v3M681.5 186v1M347.5 416v2M875.5 307v1M859.5 290v1M1344.5 377v1M532.5 322v1M585.5 324v2M886.5 316v1M535.5 324v1M892.5 322v2M695.5 204v2M1080.5 541v1M1044.5 474v2M893.5 324v1M709.5 224v2M942.5 436v1M1084.5 547v1M845.5 274v1M1286.5 501v2M155.5 480v1M848.5 276v1M370.5 385v2M1190.5 552v1M1263.5 545v1M1095.5 561v1M1069.5 527v1M1072.5 532v1M885.5 315v1M731.5 266v1M1073.5 533v1M166.5 466v1M1197.5 559v1M1083.5 545v2M694.5 202v2M1159.5 559v1M996.5 443v1M1162.5 555v1M1029.5 449v1M1281.5 511v2M687.5 191v1M738.5 273v1M870.5 303v1M645.5 212v1M648.5 208v1M174.5 455v2M177.5 451v2M1094.5 560v1M730.5 265v1M346.5 418v2M1309.5 456v2M186.5 439v1M1220.5 565v1M381.5 367v1M531.5 321v1M508.5 328v1M640.5 218v1M190.5 436v1M1277.5 518v2M664.5 194v1M1108.5 570v1M715.5 238v2M477.5 348v2M1314.5 446v1M1109.5 571v1M668.5 191v1M737.5 272v1M862.5 294v1M1351.5 369v1M863.5 295v1M366.5 392v1M499.5 336v1M869.5 302v1M775.5 276v1M1289.5 497v1M1346.5 375v1M744.5 279v1M361.5 398v1M881.5 312v1M851.5 280v1M1456.5 372v1M745.5 280v1M1293.5 494v1M162.5 472v1M354.5 404v1M1317.5 442v1M701.5 210v1M682.5 187v1M1253.5 552v1M1245.5 557v1M157.5 478v1M512.5 324v1M1082.5 544v1" fill="none" stroke="#3CB371" stroke-width="1"/></g><g fill="#000"><rect x="0" y="415" width="1" height="60"/><rect x="-2" y="424" width="5" height="38"/><rect x="8" y="439" width="1" height="28"/><rect x="6" y="461" width="5" height="3"/><rect x="16" y="446" width="1" height="20"/><rect x="14" y="451" width="5" height="13"/><rect x="15" y="452" width="3" height="11" fill="#fff"/><rect x="24" y="444" width="1" height="23"/><rect x="22" y="451" width="5" height="1"/><rect x="32" y="448" width="1" height="25"/><rect x="30" y="451" width="5" height="10"/><rect x="40" y="442" width="1" height="41"/><rect x="38" y="444" width="5" height="17"/><rect x="39" y="445" width="3" height="15" fill="#fff"/><rect x="48" y="367" width="1" height="97"/><rect x="46" y="385" width="5" height="60"/><rect x="47" y="386" width="3" height="58" fill="#fff"/><rect x="56" y="376" width="1" height="31"/><rect x="54" y="380" width="5" height="6"/><rect x="55" y="381" width="3" height="4" fill="#fff"/><rect x="64" y="369" width="1" height="22"/><rect x="62" y="371" width="5" height="9"/><rect x="63" y="372" width="3" height="7" fill="#fff"/><rect x="72" y="360" width="1" height="24"/><rect x="70" y="371" width="5" height="13"/><rect x="80" y="378" width="1" height="34"/><rect x="78" y="382" width="5" height="18"/><rect x="88" y="376" width="1" height="49"/><rect x="86" y="383" width="5" height="18"/><rect x="87" y="384" width="3" height="16" fill="#fff"/><rect x="96" y="337" width="1" height="58"/><rect x="94" y="368" width="5" height="15"/><rect x="95" y="369" width="3" height="13" fill="#fff"/><rect x="104" y="355" width="1" height="37"/><rect x="102" y="355" width="5" height="13"/><rect x="103" y="356" width="3" height="11" fill="#fff"/><rect x="112" y="350" width="1" height="32"/><rect x="110" y="355" width="5" height="15"/><rect x="120" y="358" width="1" height="16"/><rect x="118" y="370" width="5" height="1"/><rect x="128" y="358" width="1" height="17"/><rect x="126" y="358" width="5" height="13"/><rect x="127" y="359" width="3" height="11" fill="#fff"/><rect x="136" y="342" width="1" height="56"/><rect x="134" y="358" width="5" height="39"/><rect x="144" y="302" width="1" height="109"/><rect x="142" y="309" width="5" height="88"/><rect x="143" y="310" width="3" height="86" fill="#fff"/><rect x="152" y="307" width="1" height="25"/><rect x="150" y="310" width="5" height="15"/><rect x="160" y="324" width="1" height="18"/><rect x="158" y="329" width="5" height="11"/><rect x="168" y="329" width="1" height="44"/><rect x="166" y="339" width="5" height="28"/><rect x="176" y="356" width="1" height="16"/><rect x="174" y="359" width="5" height="7"/><rect x="175" y="360" width="3" height="5" fill="#fff"/><rect x="184" y="330" width="1" height="33"/><rect x="182" y="353" width="5" height="9"/><rect x="183" y="354" width="3" height="7" fill="#fff"/><rect x="192" y="351" width="1" height="103"/><rect x="190" y="352" width="5" height="83"/><rect x="200" y="384" width="1" height="63"/><rect x="198" y="386" width="5" height="48"/><rect x="199" y="387" width="3" height="46" fill="#fff"/><rect x="208" y="383" width="1" height="25"/><rect x="206" y="386" width="5" height="4"/><rect x="216" y="386" width="1" height="28"/><rect x="214" y="388" width="5" height="25"/><rect x="224" y="380" width="1" height="39"/><rect x="222" y="380" width="5" height="33"/><rect x="223" y="381" width="3" height="31" fill="#fff"/><rect x="232" y="348" width="1" height="39"/><rect x="230" y="372" width="5" height="10"/><rect x="231" y="373" width="3" height="8" fill="#fff"/><rect x="240" y="294" width="1" height="100"/><rect x="238" y="299" width="5" height="74"/><rect x="239" y="300" width="3" height="72" fill="#fff"/><rect x="248" y="298" width="1" height="43"/><rect x="246" y="299" width="5" height="23"/><rect x="256" y="318" width="1" height="18"/><rect x="254" y="322" width="5" height="7"/><rect x="264" y="315" width="1" height="18"/><rect x="262" y="325" width="5" height="4"/><rect x="263" y="326" width="3" height="2" fill="#fff"/><rect x="272" y="314" width="1" height="24"/><rect x="270" y="321" width="5" height="5"/><rect x="271" y="322" width="3" height="3" fill="#fff"/><rect x="280" y="296" width="1" height="36"/><rect x="278" y="314" width="5" height="8"/><rect x="279" y="315" width="3" height="6" fill="#fff"/><rect x="288" y="281" width="1" height="46"/><rect x="286" y="283" width="5" height="32"/><rect x="287" y="284" width="3" height="30" fill="#fff"/><rect x="296" y="240" width="1" height="55"/><rect x="294" y="284" width="5" height="6"/><rect x="304" y="290" width="1" height="16"/><rect x="302" y="290" width="5" height="8"/><rect x="312" y="297" width="1" height="29"/><rect x="310" y="297" width="5" height="22"/><rect x="320" y="318" width="1" height="57"/><rect x="318" y="318" width="5" height="50"/><rect x="328" y="307" width="1" height="73"/><rect x="326" y="320" width="5" height="48"/><rect x="327" y="321" width="3" height="46" fill="#fff"/><rect x="336" y="291" width="1" height="56"/><rect x="334" y="319" width="5" height="14"/><rect x="344" y="314" width="1" height="25"/><rect x="342" y="332" width="5" height="3"/><rect x="352" y="319" width="1" height="16"/><rect x="350" y="325" width="5" height="10"/><rect x="351" y="326" width="3" height="8" fill="#fff"/><rect x="360" y="299" width="1" height="32"/><rect x="358" y="305" width="5" height="21"/><rect x="359" y="306" width="3" height="19" fill="#fff"/><rect x="368" y="305" width="1" height="21"/><rect x="366" y="305" width="5" height="12"/><rect x="376" y="293" width="1" height="40"/><rect x="374" y="301" width="5" height="17"/><rect x="375" y="302" width="3" height="15" fill="#fff"/><rect x="384" y="272" width="1" height="58"/><rect x="382" y="274" width="5" height="28"/><rect x="383" y="275" width="3" height="26" fill="#fff"/><rect x="392" y="244" width="1" height="46"/><rect x="390" y="244" width="5" height="32"/><rect x="391" y="245" width="3" height="30" fill="#fff"/><rect x="400" y="248" width="1" height="24"/><rect x="398" y="250" width="5" height="22"/><rect x="399" y="251" width="3" height="20" fill="#fff"/><rect x="408" y="243" width="1" height="21"/><rect x="406" y="251" width="5" height="10"/><rect x="416" y="247" width="1" height="21"/><rect x="414" y="258" width="5" height="3"/><rect x="415" y="259" width="3" height="1" fill="#fff"/><rect x="424" y="235" width="1" height="38"/><rect x="422" y="258" width="5" height="5"/><rect x="432" y="252" width="1" height="74"/><rect x="430" y="262" width="5" height="28"/><rect x="440" y="272" width="1" height="27"/><rect x="438" y="277" width="5" height="13"/><rect x="439" y="278" width="3" height="11" fill="#fff"/><rect x="448" y="264" width="1" height="16"/><rect x="446" y="265" width="5" height="12"/><rect x="447" y="266" width="3" height="10" fill="#fff"/><rect x="456" y="243" width="1" height="26"/><rect x="454" y="249" width="5" height="18"/><rect x="455" y="250" width="3" height="16" fill="#fff"/><rect x="464" y="240" width="1" height="26"/><rect x="462" y="242" width="5" height="8"/><rect x="463" y="243" width="3" height="6" fill="#fff"/><rect x="472" y="215" width="1" height="45"/><rect x="470" y="242" width="5" height="17"/><rect x="480" y="233" width="1" height="56"/><rect x="478" y="234" width="5" height="25"/><rect x="479" y="235" width="3" height="23" fill="#fff"/><rect x="488" y="204" width="1" height="31"/><rect x="486" y="205" width="5" height="30"/><rect x="487" y="206" width="3" height="28" fill="#fff"/><rect x="496" y="193" width="1" height="16"/><rect x="494" y="198" width="5" height="8"/><rect x="495" y="199" width="3" height="6" fill="#fff"/><rect x="504" y="182" width="1" height="22"/><rect x="502" y="183" width="5" height="16"/><rect x="503" y="184" width="3" height="14" fill="#fff"/><rect x="512" y="182" width="1" height="26"/><rect x="510" y="183" width="5" height="20"/><rect x="520" y="187" width="1" height="27"/><rect x="518" y="197" width="5" height="5"/><rect x="519" y="198" width="3" height="3" fill="#fff"/><rect x="528" y="118" width="1" height="80"/><rect x="526" y="129" width="5" height="68"/><rect x="527" y="130" width="3" height="66" fill="#fff"/><rect x="536" y="96" width="1" height="36"/><rect x="534" y="98" width="5" height="33"/><rect x="535" y="99" width="3" height="31" fill="#fff"/><rect x="544" y="96" width="1" height="22"/><rect x="542" y="97" width="5" height="9"/><rect x="552" y="89" width="1" height="19"/><rect x="550" y="99" width="5" height="8"/><rect x="551" y="100" width="3" height="6" fill="#fff"/><rect x="560" y="73" width="1" height="34"/><rect x="558" y="73" width="5" height="27"/><rect x="559" y="74" width="3" height="25" fill="#fff"/><rect x="568" y="51" width="1" height="32"/><rect x="566" y="73" width="5" height="5"/><rect x="576" y="52" width="1" height="45"/><rect x="574" y="70" width="5" height="8"/><rect x="575" y="71" width="3" height="6" fill="#fff"/><rect x="584" y="62" width="1" height="41"/><rect x="582" y="69" width="5" height="20"/><rect x="592" y="87" width="1" height="26"/><rect x="590" y="87" width="5" height="10"/><rect x="600" y="76" width="1" height="31"/><rect x="598" y="79" width="5" height="19"/><rect x="599" y="80" width="3" height="17" fill="#fff"/><rect x="608" y="66" width="1" height="27"/><rect x="606" y="79" width="5" height="4"/><rect x="616" y="59" width="1" height="31"/><rect x="614" y="81" width="5" height="9"/><rect x="624" y="79" width="1" height="68"/><rect x="622" y="90" width="5" height="45"/><rect x="632" y="127" width="1" height="46"/><rect x="630" y="135" width="5" height="9"/><rect x="640" y="142" width="1" height="16"/><rect x="638" y="147" width="5" height="1"/><rect x="648" y="136" width="1" height="24"/><rect x="646" y="141" width="5" height="6"/><rect x="647" y="142" width="3" height="4" fill="#fff"/><rect x="656" y="131" width="1" height="21"/><rect x="654" y="133" width="5" height="8"/><rect x="655" y="134" width="3" height="6" fill="#fff"/><rect x="664" y="126" width="1" height="43"/><rect x="662" y="133" width="5" height="30"/><rect x="672" y="157" width="1" height="36"/><rect x="670" y="162" width="5" height="17"/><rect x="680" y="168" width="1" height="18"/><rect x="678" y="178" width="5" height="6"/><rect x="688" y="179" width="1" height="10"/><rect x="686" y="179" width="5" height="5"/><rect x="687" y="180" width="3" height="3" fill="#fff"/><rect x="696" y="162" width="1" height="51"/><rect x="694" y="178" width="5" height="27"/><rect x="704" y="177" width="1" height="28"/><rect x="702" y="184" width="5" height="20"/><rect x="703" y="185" width="3" height="18" fill="#fff"/><rect x="712" y="173" width="1" height="65"/><rect x="710" y="184" width="5" height="53"/><rect x="720" y="235" width="1" height="39"/><rect x="718" y="235" width="5" height="28"/><rect x="728" y="235" width="1" height="39"/><rect x="726" y="243" width="5" height="20"/><rect x="727" y="244" width="3" height="18" fill="#fff"/><rect x="736" y="239" width="1" height="21"/><rect x="734" y="240" width="5" height="4"/><rect x="735" y="241" width="3" height="2" fill="#fff"/><rect x="744" y="232" width="1" height="24"/><rect x="742" y="238" width="5" height="4"/><rect x="752" y="217" width="1" height="38"/><rect x="750" y="241" width="5" height="13"/><rect x="760" y="182" width="1" height="74"/><rect x="758" y="201" width="5" height="53"/><rect x="759" y="202" width="3" height="51" fill="#fff"/><rect x="768" y="178" width="1" height="36"/><rect x="766" y="201" width="5" height="4"/><rect x="776" y="194" width="1" height="20"/><rect x="774" y="204" width="5" height="4"/><rect x="784" y="204" width="1" height="28"/><rect x="782" y="207" width="5" height="23"/><rect x="792" y="193" width="1" height="36"/><rect x="790" y="206" width="5" height="22"/><rect x="791" y="207" width="3" height="20" fill="#fff"/><rect x="800" y="196" width="1" height="20"/><rect x="798" y="206" width="5" height="1"/><rect x="808" y="192" width="1" height="43"/><rect x="806" y="206" width="5" height="25"/><rect x="816" y="161" width="1" height="80"/><rect x="814" y="169" width="5" height="61"/><rect x="815" y="170" width="3" height="59" fill="#fff"/><rect x="824" y="162" width="1" height="63"/><rect x="822" y="169" width="5" height="56"/><rect x="832" y="218" width="1" height="39"/><rect x="830" y="223" width="5" height="21"/><rect x="840" y="237" width="1" height="30"/><rect x="838" y="243" width="5" height="3"/><rect x="848" y="243" width="1" height="35"/><rect x="846" y="246" width="5" height="25"/><rect x="856" y="270" width="1" height="31"/><rect x="854" y="270" width="5" height="25"/><rect x="864" y="269" width="1" height="40"/><rect x="862" y="294" width="5" height="4"/><rect x="872" y="280" width="1" height="23"/><rect x="870" y="296" width="5" height="2"/><rect x="880" y="296" width="1" height="13"/><rect x="878" y="296" width="5" height="9"/><rect x="879" y="297" width="3" height="7" fill="#fff"/><rect x="888" y="283" width="1" height="22"/><rect x="886" y="296" width="5" height="3"/><rect x="896" y="292" width="1" height="33"/><rect x="894" y="296" width="5" height="18"/><rect x="904" y="296" width="1" height="89"/><rect x="902" y="313" width="5" height="69"/><rect x="912" y="373" width="1" height="65"/><rect x="910" y="382" width="5" height="30"/><rect x="920" y="387" width="1" height="55"/><rect x="918" y="388" width="5" height="25"/><rect x="919" y="389" width="3" height="23" fill="#fff"/><rect x="928" y="374" width="1" height="18"/><rect x="926" y="381" width="5" height="9"/><rect x="927" y="382" width="3" height="7" fill="#fff"/><rect x="936" y="380" width="1" height="29"/><rect x="934" y="381" width="5" height="16"/><rect x="944" y="383" width="1" height="21"/><rect x="942" y="387" width="5" height="10"/><rect x="943" y="388" width="3" height="8" fill="#fff"/><rect x="952" y="371" width="1" height="67"/><rect x="950" y="388" width="5" height="47"/><rect x="960" y="373" width="1" height="75"/><rect x="958" y="386" width="5" height="49"/><rect x="959" y="387" width="3" height="47" fill="#fff"/><rect x="968" y="343" width="1" height="52"/><rect x="966" y="344" width="5" height="43"/><rect x="967" y="345" width="3" height="41" fill="#fff"/><rect x="976" y="343" width="1" height="28"/><rect x="974" y="344" width="5" height="11"/><rect x="984" y="340" width="1" height="19"/><rect x="982" y="354" width="5" height="2"/><rect x="992" y="348" width="1" height="23"/><rect x="990" y="354" width="5" height="11"/><rect x="1000" y="337" width="1" height="38"/><rect x="998" y="351" width="5" height="14"/><rect x="999" y="352" width="3" height="12" fill="#fff"/><rect x="1008" y="340" width="1" height="38"/><rect x="1006" y="350" width="5" height="5"/><rect x="1016" y="335" width="1" height="84"/><rect x="1014" y="354" width="5" height="55"/><rect x="1024" y="407" width="1" height="31"/><rect x="1022" y="408" width="5" height="1"/><rect x="1032" y="408" width="1" height="41"/><rect x="1030" y="408" width="5" height="40"/><rect x="1040" y="440" width="1" height="39"/><rect x="1038" y="447" width="5" height="30"/><rect x="1048" y="451" width="1" height="74"/><rect x="1046" y="476" width="5" height="35"/><rect x="1056" y="483" width="1" height="63"/><rect x="1054" y="505" width="5" height="5"/><rect x="1055" y="506" width="3" height="3" fill="#fff"/><rect x="1064" y="487" width="1" height="49"/><rect x="1062" y="506" width="5" height="21"/><rect x="1072" y="506" width="1" height="21"/><rect x="1070" y="509" width="5" height="18"/><rect x="1071" y="510" width="3" height="16" fill="#fff"/><rect x="1080" y="488" width="1" height="32"/><rect x="1078" y="493" width="5" height="17"/><rect x="1079" y="494" width="3" height="15" fill="#fff"/><rect x="1088" y="473" width="1" height="44"/><rect x="1086" y="494" width="5" height="17"/><rect x="1096" y="500" width="1" height="38"/><rect x="1094" y="506" width="5" height="4"/><rect x="1095" y="507" width="3" height="2" fill="#fff"/><rect x="1104" y="452" width="1" height="75"/><rect x="1102" y="475" width="5" height="32"/><rect x="1103" y="476" width="3" height="30" fill="#fff"/><rect x="1112" y="451" width="1" height="76"/><rect x="1110" y="473" width="5" height="39"/><rect x="1120" y="488" width="1" height="22"/><rect x="1118" y="490" width="5" height="8"/><rect x="1119" y="491" width="3" height="6" fill="#fff"/><rect x="1128" y="475" width="1" height="20"/><rect x="1126" y="480" width="5" height="11"/><rect x="1127" y="481" width="3" height="9" fill="#fff"/><rect x="1136" y="447" width="1" height="35"/><rect x="1134" y="449" width="5" height="31"/><rect x="1135" y="450" width="3" height="29" fill="#fff"/><rect x="1144" y="431" width="1" height="58"/><rect x="1142" y="448" width="5" height="41"/><rect x="1152" y="423" width="1" height="79"/><rect x="1150" y="470" width="5" height="19"/><rect x="1151" y="471" width="3" height="17" fill="#fff"/><rect x="1160" y="417" width="1" height="68"/><rect x="1158" y="420" width="5" height="50"/><rect x="1159" y="421" width="3" height="48" fill="#fff"/><rect x="1168" y="416" width="1" height="32"/><rect x="1166" y="420" width="5" height="17"/><rect x="1176" y="431" width="1" height="19"/><rect x="1174" y="435" width="5" height="8"/><rect x="1184" y="392" width="1" height="51"/><rect x="1182" y="394" width="5" height="49"/><rect x="1183" y="395" width="3" height="47" fill="#fff"/><rect x="1192" y="348" width="1" height="56"/><rect x="1190" y="374" width="5" height="21"/><rect x="1191" y="375" width="3" height="19" fill="#fff"/><rect x="1200" y="344" width="1" height="53"/><rect x="1198" y="359" width="5" height="15"/><rect x="1199" y="360" width="3" height="13" fill="#fff"/><rect x="1208" y="338" width="1" height="37"/><rect x="1206" y="344" width="5" height="16"/><rect x="1207" y="345" width="3" height="14" fill="#fff"/><rect x="1216" y="330" width="1" height="22"/><rect x="1214" y="335" width="5" height="10"/><rect x="1215" y="336" width="3" height="8" fill="#fff"/><rect x="1224" y="332" width="1" height="14"/><rect x="1222" y="335" width="5" height="11"/><rect x="1232" y="318" width="1" height="28"/><rect x="1230" y="322" width="5" height="24"/><rect x="1231" y="323" width="3" height="22" fill="#fff"/><rect x="1240" y="282" width="1" height="51"/><rect x="1238" y="286" width="5" height="36"/><rect x="1239" y="287" width="3" height="34" fill="#fff"/><rect x="1248" y="256" width="1" height="42"/><rect x="1246" y="283" width="5" height="4"/><rect x="1247" y="284" width="3" height="2" fill="#fff"/><rect x="1256" y="256" width="1" height="42"/><rect x="1254" y="259" width="5" height="25"/><rect x="1255" y="260" width="3" height="23" fill="#fff"/><rect x="1264" y="257" width="1" height="29"/><rect x="1262" y="260" width="5" height="25"/><rect x="1272" y="281" width="1" height="17"/><rect x="1270" y="284" width="5" height="2"/><rect x="1280" y="284" width="1" height="23"/><rect x="1278" y="284" width="5" height="10"/><rect x="1288" y="280" width="1" height="39"/><rect x="1286" y="286" width="5" height="8"/><rect x="1287" y="287" width="3" height="6" fill="#fff"/><rect x="1296" y="203" width="1" height="105"/><rect x="1294" y="228" width="5" height="53"/><rect x="1295" y="229" width="3" height="51" fill="#fff"/><rect x="1304" y="218" width="1" height="41"/><rect x="1302" y="226" width="5" height="29"/><rect x="1312" y="235" width="1" height="24"/><rect x="1310" y="242" width="5" height="13"/><rect x="1311" y="243" width="3" height="11" fill="#fff"/><rect x="1320" y="220" width="1" height="24"/><rect x="1318" y="228" width="5" height="16"/><rect x="1319" y="229" width="3" height="14" fill="#fff"/><rect x="1328" y="223" width="1" height="43"/><rect x="1326" y="228" width="5" height="36"/><rect x="1336" y="255" width="1" height="47"/><rect x="1334" y="262" width="5" height="15"/><rect x="1344" y="265" width="1" height="95"/><rect x="1342" y="275" width="5" height="54"/><rect x="1352" y="301" width="1" height="36"/><rect x="1350" y="327" width="5" height="3"/><rect x="1360" y="324" width="1" height="4"/><rect x="1358" y="326" width="5" height="1"/><rect x="1368" y="325" width="1" height="22"/><rect x="1366" y="325" width="5" height="12"/><rect x="1376" y="319" width="1" height="25"/><rect x="1374" y="319" width="5" height="18"/><rect x="1375" y="320" width="3" height="16" fill="#fff"/><rect x="1384" y="301" width="1" height="78"/><rect x="1382" y="319" width="5" height="35"/><rect x="1392" y="325" width="1" height="40"/><rect x="1390" y="328" width="5" height="26"/><rect x="1391" y="329" width="3" height="24" fill="#fff"/><rect x="1400" y="319" width="1" height="28"/><rect x="1398" y="319" width="5" height="10"/><rect x="1399" y="320" width="3" height="8" fill="#fff"/><rect x="1408" y="318" width="1" height="12"/><rect x="1406" y="319" width="5" height="2"/><rect x="1416" y="318" width="1" height="19"/><rect x="1414" y="319" width="5" height="5"/><rect x="1424" y="321" width="1" height="36"/><rect x="1422" y="323" width="5" height="14"/><rect x="1432" y="285" width="1" height="53"/><rect x="1430" y="308" width="5" height="30"/><rect x="1431" y="309" width="3" height="28" fill="#fff"/><rect x="1440" y="297" width="1" height="50"/><rect x="1438" y="300" width="5" height="8"/><rect x="1439" y="301" width="3" height="6" fill="#fff"/><rect x="1448" y="294" width="1" height="26"/><rect x="1446" y="299" width="5" height="11"/><rect x="1456" y="299" width="1" height="18"/><rect x="1454" y="312" width="5" height="5"/></g><rect x="0" y="257" width="1651" height="1" fill="#FF4500"/><rect x="0" y="290" width="1651" height="1" fill="#FF0000"/><rect x="0" y="316" width="1651" height="1" fill="#32CD32"/><rect x="0" y="360" width="1651" height="1" fill="#0000FF"/><rect x="0" y="394" width="1651" height="1" fill="#0000FF"/><rect x="1225.5" y="195.5" width="61" height="18" fill="#fff" stroke="#FF0000" stroke-width="1"/><rect x="1287" y="204" width="10" height="1" fill="#FF0000"/><rect x="1273.5" y="351.5" width="61" height="18" fill="#fff" stroke="#FF0000" stroke-width="1"/><rect x="1335" y="360" width="10" height="1" fill="#FF0000"/><rect x="1313.5" y="370.5" width="61" height="18" fill="#fff" stroke="#FF0000" stroke-width="1"/><rect x="1375" y="379" width="10" height="1" fill="#FF0000"/><rect x="985.5" y="537.5" width="61" height="18" fill="#fff" stroke="#FF0000" stroke-width="1"/><rect x="1047" y="546" width="10" height="1" fill="#FF0000"/><rect x="1139.5" y="304.5" width="73" height="24" fill="#fff" stroke="#FF0000" stroke-width="1"/><rect x="1129" y="316" width="10" height="1" fill="#FF0000"/><g shape-rendering="geometricPrecision"></g></g>
<g clip-path="url(#c2)"><g fill="#C0C0C0"><rect x="0" y="607" width="1" height="67"/><rect x="8" y="612" width="1" height="62"/><rect x="16" y="615" width="1" height="59"/><rect x="24" y="617" width="1" height="57"/><rect x="32" y="622" width="1" height="52"/><rect x="40" y="623" width="1" height="51"/><rect x="48" y="617" width="1" height="57"/><rect x="56" y="612" width="1" height="62"/><rect x="64" y="608" width="1" height="66"/><rect x="72" y="606" width="1" height="68"/><rect x="80" y="609" width="1" height="65"/><rect x="88" y="609" width="1" height="65"/><rect x="96" y="608" width="1" height="66"/><rect x="104" y="606" width="1" height="68"/><rect x="112" y="607" width="1" height="67"/><rect x="120" y="609" width="1" height="65"/><rect x="128" y="609" width="1" height="65"/><rect x="136" y="616" width="1" height="58"/><rect x="144" y="609" width="1" height="65"/><rect x="152" y="607" width="1" height="67"/><rect x="160" y="609" width="1" height="65"/><rect x="168" y="614" width="1" height="60"/><rect x="176" y="618" width="1" height="56"/><rect x="184" y="621" width="1" height="53"/><rect x="192" y="635" width="1" height="39"/><rect x="200" y="640" width="1" height="34"/><rect x="208" y="644" width="1" height="30"/><rect x="216" y="651" width="1" height="23"/><rect x="224" y="653" width="1" height="21"/><rect x="232" y="653" width="1" height="21"/><rect x="240" y="643" width="1" height="31"/><rect x="248" y="639" width="1" height="35"/><rect x="256" y="637" width="1" height="37"/><rect x="264" y="636" width="1" height="38"/><rect x="272" y="634" width="1" height="40"/><rect x="280" y="633" width="1" height="41"/><rect x="288" y="628" width="1" height="46"/><rect x="296" y="625" width="1" height="49"/><rect x="304" y="625" width="1" height="49"/><rect x="312" y="628" width="1" height="46"/><rect x="320" y="638" width="1" height="36"/><rect x="328" y="639" width="1" height="35"/><rect x="336" y="643" width="1" height="31"/><rect x="344" y="646" width="1" height="28"/><rect x="352" y="648" width="1" height="26"/><rect x="360" y="646" width="1" height="28"/><rect x="368" y="647" width="1" height="27"/><rect x="376" y="646" width="1" height="28"/><rect x="384" y="642" width="1" height="32"/><rect x="392" y="635" width="1" height="39"/><rect x="400" y="631" width="1" height="43"/><rect x="408" y="629" width="1" height="45"/><rect x="416" y="628" width="1" height="46"/><rect x="424" y="628" width="1" height="46"/><rect x="432" y="633" width="1" height="41"/><rect x="440" y="635" width="1" height="39"/><rect x="448" y="636" width="1" height="38"/><rect x="456" y="635" width="1" height="39"/><rect x="464" y="633" width="1" height="41"/><rect x="472" y="635" width="1" height="39"/><rect x="480" y="633" width="1" height="41"/><rect x="488" y="628" width="1" height="46"/><rect x="496" y="624" width="1" height="50"/><rect x="504" y="619" width="1" height="55"/><rect x="512" y="618" width="1" height="56"/><rect x="520" y="618" width="1" height="56"/><rect x="528" y="609" width="1" height="65"/><rect x="536" y="598" width="1" height="76"/><rect x="544" y="591" width="1" height="83"/><rect x="552" y="586" width="1" height="88"/><rect x="560" y="580" width="1" height="94"/><rect x="568" y="576" width="1" height="98"/><rect x="576" y="573" width="1" height="101"/><rect x="584" y="575" width="1" height="99"/><rect x="592" y="578" width="1" height="96"/><rect x="600" y="580" width="1" height="94"/><rect x="608" y="583" width="1" height="91"/><rect x="616" y="587" width="1" height="87"/><rect x="624" y="597" width="1" height="77"/><rect x="632" y="607" width="1" height="67"/><rect x="640" y="617" width="1" height="57"/><rect x="648" y="624" width="1" height="50"/><rect x="656" y="629" width="1" height="45"/><rect x="664" y="638" width="1" height="36"/><rect x="672" y="647" width="1" height="27"/><rect x="680" y="655" width="1" height="19"/><rect x="688" y="662" width="1" height="12"/><rect x="696" y="670" width="1" height="4"/><rect x="712" y="673" width="1" height="10"/><rect x="720" y="673" width="1" height="22"/><rect x="728" y="673" width="1" height="28"/><rect x="736" y="673" width="1" height="32"/><rect x="744" y="673" width="1" height="35"/><rect x="752" y="673" width="1" height="39"/><rect x="760" y="673" width="1" height="34"/><rect x="768" y="673" width="1" height="30"/><rect x="776" y="673" width="1" height="27"/><rect x="784" y="673" width="1" height="27"/><rect x="792" y="673" width="1" height="25"/><rect x="800" y="673" width="1" height="22"/><rect x="808" y="673" width="1" height="23"/><rect x="816" y="673" width="1" height="15"/><rect x="824" y="673" width="1" height="16"/><rect x="832" y="673" width="1" height="19"/><rect x="840" y="673" width="1" height="22"/><rect x="848" y="673" width="1" height="28"/><rect x="856" y="673" width="1" height="35"/><rect x="864" y="673" width="1" height="41"/><rect x="872" y="673" width="1" height="44"/><rect x="880" y="673" width="1" height="47"/><rect x="888" y="673" width="1" height="48"/><rect x="896" y="673" width="1" height="51"/><rect x="904" y="673" width="1" height="63"/><rect x="912" y="673" width="1" height="75"/><rect x="920" y="673" width="1" height="80"/><rect x="928" y="673" width="1" height="83"/><rect x="936" y="673" width="1" height="86"/><rect x="944" y="673" width="1" height="86"/><rect x="952" y="673" width="1" height="92"/><rect x="960" y="673" width="1" height="89"/><rect x="968" y="673" width="1" height="79"/><rect x="976" y="673" width="1" height="72"/><rect x="984" y="673" width="1" height="66"/><rect x="992" y="673" width="1" height="62"/><rect x="1000" y="673" width="1" height="56"/><rect x="1008" y="673" width="1" height="51"/><rect x="1016" y="673" width="1" height="54"/><rect x="1024" y="673" width="1" height="56"/><rect x="1032" y="673" width="1" height="63"/><rect x="1040" y="673" width="1" height="71"/><rect x="1048" y="673" width="1" height="81"/><rect x="1056" y="673" width="1" height="87"/><rect x="1064" y="673" width="1" height="95"/><rect x="1072" y="673" width="1" height="97"/><rect x="1080" y="673" width="1" height="95"/><rect x="1088" y="673" width="1" height="95"/><rect x="1096" y="673" width="1" height="93"/><rect x="1104" y="673" width="1" height="86"/><rect x="1112" y="673" width="1" height="85"/><rect x="1120" y="673" width="1" height="80"/><rect x="1128" y="673" width="1" height="74"/><rect x="1136" y="673" width="1" height="64"/><rect x="1144" y="673" width="1" height="61"/><rect x="1152" y="673" width="1" height="56"/><rect x="1160" y="673" width="1" height="44"/><rect x="1168" y="673" width="1" height="36"/><rect x="1176" y="673" width="1" height="30"/><rect x="1184" y="673" width="1" height="19"/><rect x="1192" y="673" width="1" height="7"/><rect x="1200" y="670" width="1" height="4"/><rect x="1208" y="659" width="1" height="15"/><rect x="1216" y="649" width="1" height="25"/><rect x="1224" y="643" width="1" height="31"/><rect x="1232" y="635" width="1" height="39"/><rect x="1240" y="625" width="1" height="49"/><rect x="1248" y="617" width="1" height="57"/><rect x="1256" y="608" width="1" height="66"/><rect x="1264" y="605" width="1" height="69"/><rect x="1272" y="604" width="1" height="70"/><rect x="1280" y="605" width="1" height="69"/><rect x="1288" y="605" width="1" height="69"/><rect x="1296" y="598" width="1" height="76"/><rect x="1304" y="598" width="1" height="76"/><rect x="1312" y="596" width="1" height="78"/><rect x="1320" y="594" width="1" height="80"/><rect x="1328" y="598" width="1" height="76"/><rect x="1336" y="604" width="1" height="70"/><rect x="1344" y="616" width="1" height="58"/><rect x="1352" y="627" width="1" height="47"/><rect x="1360" y="635" width="1" height="39"/><rect x="1368" y="644" width="1" height="30"/><rect x="1376" y="648" width="1" height="26"/><rect x="1384" y="656" width="1" height="18"/><rect x="1392" y="659" width="1" height="15"/><rect x="1400" y="661" width="1" height="13"/><rect x="1408" y="664" width="1" height="10"/><rect x="1416" y="665" width="1" height="9"/><rect x="1424" y="669" width="1" height="5"/><rect x="1432" y="668" width="1" height="6"/><rect x="1440" y="666" width="1" height="8"/><rect x="1448" y="665" width="1" height="9"/><rect x="1456" y="665" width="1" height="9"/></g><path d="M312 631.5h3M318 631.5h3M324 631.5h3M330 631.5h3M499 631.5h2M54 614.5h3M60 614.5h3M66 614.5h3M72 614.5h3M78 614.5h3M282 641.5h3M372 641.5h3M408 641.5h3M253 643.5h2M258 643.5h3M270 643.5h3M384 643.5h3M390 643.5h3M6 601.5h3M1322 601.5h3M1341 601.5h2M126 607.5h3M1304 607.5h2M1359 607.5h2M31 608.5h2M120 608.5h3M133 608.5h2M138 608.5h3M150 608.5h3M156 608.5h3M162 608.5h3M109 609.5h2M114 609.5h3M144 609.5h3M168 609.5h3M553 609.5h2M234 637.5h3M360 637.5h2M421 637.5h2M780 702.5h3M798 702.5h3M222 630.5h2M504 630.5h3M786 703.5h3M792 703.5h3M882 703.5h2M582 590.5h2M217 627.5h2M1286 617.5h2M37 610.5h2M103 610.5h2M174 610.5h3M1298 610.5h2M1050 735.5h3M816 699.5h3M871 699.5h2M811 700.5h2M199 618.5h2M762 695.5h2M834 695.5h3M853 695.5h2M192 615.5h2M1104 761.5h3M1128 761.5h2M295 636.5h2M355 636.5h2M426 636.5h3M600 581.5h3M624 581.5h2M840 694.5h3M846 694.5h3M19 604.5h2M661 604.5h2M1311 604.5h2M1352 604.5h2M301 634.5h2M348 634.5h3M438 634.5h3M1395 634.5h2M1075 747.5h2M342 633.5h3M445 633.5h2M450 633.5h3M48 613.5h3M85 613.5h2M90 613.5h3M186 613.5h3M547 613.5h2M991 752.5h2M1147 752.5h2M967 754.5h2M984 754.5h3M1026 736.5h3M823 697.5h2M864 697.5h3M247 642.5h2M277 642.5h2M378 642.5h3M397 642.5h2M402 642.5h3M24 605.5h2M43 612.5h2M96 612.5h3M775 701.5h2M805 701.5h2M877 701.5h2M205 620.5h2M1281 620.5h2M1454 664.5h3M571 597.5h2M1424 655.5h2M307 632.5h2M336 632.5h3M456 632.5h3M462 632.5h3M468 632.5h3M474 632.5h3M480 632.5h3M486 632.5h3M492 632.5h3M768 698.5h2M955 748.5h2M1002 748.5h2M1153 748.5h2M264 644.5h3M12 602.5h3M1317 602.5h2M1346 602.5h3M931 733.5h2M1038 733.5h3M828 696.5h3M859 696.5h2M973 755.5h2M978 755.5h3M960 751.5h2M1443 662.5h2M211 623.5h2M594 584.5h2M631 584.5h2M1014 742.5h2M739 679.5h2M180 611.5h3M1436 660.5h3M1448 663.5h3M636 586.5h2M942 740.5h2M1063 740.5h2M1008 745.5h2M1158 745.5h2M0 600.5h3M1328 600.5h3M1334 600.5h3M937 737.5h2M1056 737.5h2M577 593.5h2M1135 758.5h2M367 640.5h2M516 628.5h3M1111 763.5h2M1116 763.5h3M240 639.5h2M288 639.5h2M415 639.5h2M649 595.5h2M1430 658.5h2M522 626.5h3M1032 734.5h3M1045 734.5h2M1418 652.5h2M1413 649.5h2M510 629.5h3M606 580.5h3M619 580.5h2M1377 619.5h2M745 684.5h2M1020 739.5h2M1086 753.5h2M895 709.5h2M888 706.5h2M997 750.5h2M1080 750.5h2M913 721.5h2M613 579.5h2M534 621.5h2M1123 762.5h2M588 587.5h2M528 624.5h2M432 635.5h3M1099 760.5h2M1140 756.5h2M690.5 632v1M414.5 640v1M685.5 627v1M242.5 640v1M396.5 643v1M1232.5 671v1M306.5 633v1M1432.5 659v1M564.5 602v1M26.5 606v1M852.5 694v1M1217.5 688v1M804.5 702v1M1316.5 603v1M930.5 732v1M576.5 594v1M708.5 649v1M644.5 591v1M696.5 638v1M925.5 729v1M584.5 589v1M1400.5 638v1M1420.5 653v1M1183.5 725v1M692.5 634v1M1388.5 627v1M612.5 580v1M1275.5 625v1M709.5 650v1M1280.5 621v1M590.5 586v1M198.5 617v1M1212.5 694v1M1270.5 629v1M1178.5 729v1M1365.5 610v1M558.5 606v1M919.5 725v1M1401.5 639v1M1288.5 616v1M1004.5 747v1M1306.5 606v1M1171.5 735v1M770.5 699v1M1176.5 731v1M1268.5 631v1M1177.5 730v1M1269.5 630v1M1372.5 615v1M1274.5 626v1M900.5 711v1M655.5 599v1M1134.5 759v1M926.5 730v1M666.5 608v1M1152.5 749v1M1195.5 713v1M715.5 656v1M732.5 672v1M710.5 651v1M703.5 645v1M720.5 661v1M972.5 754v1M596.5 583v1M907.5 716v1M901.5 712v1M1164.5 741v1M1165.5 740v1M1366.5 611v1M1358.5 606v1M810.5 701v1M1402.5 640v1M1199.5 708v1M716.5 657v1M733.5 673v1M1222.5 682v1M642.5 589v1M751.5 688v1M1221.5 683v1M1082.5 751v1M908.5 717v1M962.5 752v1M656.5 600v1M667.5 609v1M204.5 619v1M758.5 693v1M1098.5 759v1M990.5 753v1M224.5 631v1M362.5 638v1M1044.5 733v1M1310.5 605v1M1146.5 753v1M738.5 678v1M936.5 736v1M1194.5 714v1M673.5 615v1M1258.5 640v1M902.5 713v1M1216.5 689v1M668.5 610v1M560.5 604v1M84.5 614v1M546.5 614v1M734.5 674v1M300.5 635v1M1370.5 613v1M638.5 587v1M630.5 583v1M559.5 605v1M822.5 698v1M1238.5 664v1M542.5 616v1M697.5 639v1M228.5 633v1M714.5 655v1M674.5 616v1M1070.5 744v1M1211.5 695v1M906.5 715v1M420.5 638v1M1389.5 628v1M890.5 707v1M540.5 618v1M1426.5 656v1M290.5 638v1M570.5 598v1M756.5 691v1M1182.5 726v1M132.5 607v1M1189.5 719v1M1210.5 696v1M18.5 603v1M1233.5 670v1M1010.5 744v1M246.5 641v1M1376.5 618v1M698.5 640v1M229.5 634v1M1394.5 633v1M1188.5 720v1M1206.5 701v1M565.5 601v1M1207.5 700v1M858.5 695v1M1390.5 629v1M444.5 634v1M721.5 662v1M1383.5 623v1M704.5 646v1M1074.5 746v1M230.5 635v1M30.5 607v1M1058.5 738v1M1205.5 702v1M643.5 590v1M498.5 632v1M1016.5 741v1M752.5 689v1M618.5 579v1M672.5 614v1M1220.5 684v1M1068.5 742v1M294.5 637v1M660.5 603v1M1340.5 600v1M1142.5 755v1M1243.5 658v1M1242.5 659v1M678.5 620v1M1300.5 609v1M954.5 747v1M722.5 663v1M210.5 622v1M42.5 611v1M1241.5 660v1M870.5 698v1M728.5 669v1M1257.5 641v1M1215.5 690v1M648.5 594v1M774.5 700v1M1237.5 665v1M541.5 617v1M194.5 616v1M949.5 744v1M252.5 642v1M1190.5 718v1M702.5 644v1M1110.5 762v1M36.5 609v1M1253.5 646v1M679.5 621v1M1200.5 707v1M1092.5 756v1M530.5 623v1M950.5 745v1M1412.5 648v1M536.5 620v1M1442.5 661v1M1122.5 763v1M566.5 600v1M1252.5 647v1M996.5 751v1M366.5 639v1M552.5 610v1M680.5 622v1M1196.5 712v1M1251.5 648v1M966.5 753v1M1247.5 653v1M1248.5 652v1M944.5 741v1M102.5 611v1M1130.5 760v1M1294.5 612v1M1228.5 676v1M1088.5 754v1M924.5 728v1M1231.5 672v1M1246.5 654v1M1406.5 643v1M1354.5 605v1M686.5 628v1M726.5 667v1M1094.5 758v1M691.5 633v1M1384.5 624v1M884.5 704v1M912.5 720v1M1292.5 614v1M876.5 700v1M1293.5 613v1M1227.5 677v1M1364.5 609v1M1407.5 644v1M216.5 626v1M918.5 724v1M1022.5 738v1M1184.5 724v1M1276.5 624v1M1408.5 645v1M894.5 708v1M948.5 743v1M1069.5 743v1M1371.5 614v1M654.5 598v1M626.5 582v1M1226.5 678v1M727.5 668v1M276.5 643v1M764.5 696v1M1256.5 642v1M920.5 726v1M1166.5 739v1M1201.5 706v1M1172.5 734v1M1264.5 634v1M1263.5 635v1M354.5 635v1M744.5 683v1M108.5 610v1M750.5 687v1M1170.5 736v1M1262.5 636v1M684.5 626v1M1062.5 739v1M1160.5 744v1M1382.5 622v1M1236.5 666v1M757.5 692v1M1093.5 757v1" fill="none" stroke="#FF0000" stroke-width="1"/></g>
<g clip-path="url(#c3)"><line x1="0" y1="812.5" x2="1651" y2="812.5" stroke="#C0C0C0" stroke-width="1" stroke-dasharray="3,3"/><line x1="0" y1="854.5" x2="1651" y2="854.5" stroke="#C0C0C0" stroke-width="1" stroke-dasharray="3,3"/><line x1="0" y1="903.5" x2="1651" y2="903.5" stroke="#C0C0C0" stroke-width="1" stroke-dasharray="3,3"/><path d="M665 858.5h2M773 858.5h4M1367 858.5h2M211 854.5h2M1173 854.5h4M1373 854.5h2M1395 854.5h4M1413 854.5h5M69 826.5h2M103 826.5h2M503 826.5h2M588 826.5h2M596 826.5h2M607 826.5h3M1250 826.5h2M843 866.5h2M1127 866.5h2M90 830.5h3M109 830.5h2M127 830.5h2M488 830.5h5M1311 830.5h4M364 846.5h2M372 846.5h2M437 846.5h2M679 864.5h4M832 864.5h9M987 864.5h4M994 864.5h2M1147 864.5h2M675 863.5h4M683 863.5h4M830 863.5h2M975 863.5h12M996 863.5h2M923 883.5h4M931 883.5h4M938 883.5h2M1038 883.5h2M558 816.5h2M563 816.5h4M573 816.5h4M48 825.5h5M586 825.5h2M598 825.5h2M603 825.5h4M1252 825.5h2M135 844.5h2M173 844.5h6M360 844.5h2M442 844.5h3M1184 844.5h2M667 859.5h2M777 859.5h2M803 859.5h2M1387 859.5h2M86 832.5h2M112 832.5h11M1233 832.5h2M1264 832.5h11M1304 832.5h3M15 838.5h11M299 838.5h4M407 838.5h6M419 838.5h4M456 838.5h3M1199 838.5h3M214 856.5h2M217 856.5h2M760 856.5h5M792 856.5h9M1344 856.5h5M1355 856.5h4M1362 856.5h3M1420 856.5h2M82 834.5h2M155 834.5h2M288 834.5h2M390 834.5h2M395 834.5h4M483 834.5h2M512 834.5h5M1213 834.5h5M1230 834.5h2M1279 834.5h6M717 878.5h2M1080 878.5h3M13 839.5h2M26 839.5h2M38 839.5h2M281 839.5h2M303 839.5h2M423 839.5h2M454 839.5h2M467 839.5h2M477 839.5h2M1197 839.5h2M1328 839.5h2M224 851.5h3M341 851.5h6M637 851.5h6M1164 851.5h2M1446 851.5h2M32 842.5h2M183 842.5h2M248 842.5h5M261 842.5h14M447 842.5h3M473 842.5h2M1189 842.5h2M1334 842.5h2M1078 879.5h2M1083 879.5h4M1093 879.5h4M10 840.5h3M28 840.5h2M36 840.5h2M245 840.5h2M279 840.5h2M305 840.5h2M381 840.5h2M452 840.5h2M1194 840.5h3M1330 840.5h2M192 861.5h2M670 861.5h2M826 861.5h2M968 861.5h3M1000 861.5h5M747 873.5h4M854 873.5h2M1016 873.5h9M80 835.5h2M290 835.5h3M399 835.5h3M1207 835.5h6M1218 835.5h3M1228 835.5h2M200 852.5h9M1166 852.5h2M1448 852.5h5M158 836.5h2M285 836.5h2M293 836.5h2M387 836.5h2M402 836.5h3M463 836.5h2M1205 836.5h2M1221 836.5h2M1226 836.5h2M904 889.5h2M1063 889.5h2M691 865.5h2M841 865.5h2M991 865.5h3M1145 865.5h2M84 833.5h2M153 833.5h2M392 833.5h3M517 833.5h4M1275 833.5h4M1285 833.5h4M168 845.5h5M358 845.5h2M362 845.5h2M374 845.5h2M439 845.5h3M765 857.5h8M1349 857.5h6M1365 857.5h2M1369 857.5h2M1422 857.5h2M99 827.5h4M105 827.5h2M501 827.5h2M590 827.5h2M594 827.5h2M610 827.5h3M1240 827.5h10M241 837.5h2M295 837.5h4M385 837.5h2M405 837.5h2M413 837.5h6M459 837.5h4M1202 837.5h3M1223 837.5h3M328 847.5h2M355 847.5h2M366 847.5h2M370 847.5h2M434 847.5h3M624 847.5h2M655 847.5h2M816 847.5h2M1439 847.5h2M846 868.5h2M1122 868.5h3M751 874.5h2M856 874.5h34M1113 874.5h2M95 828.5h4M144 828.5h3M498 828.5h3M592 828.5h2M613 828.5h2M1319 828.5h2M1120 869.5h2M672 862.5h3M687 862.5h2M781 862.5h2M807 862.5h2M828 862.5h2M971 862.5h4M998 862.5h2M1005 862.5h4M1150 862.5h2M713 875.5h2M890 875.5h2M231 849.5h2M333 849.5h2M351 849.5h2M629 849.5h2M647 849.5h4M1160 849.5h2M1434 849.5h3M1443 849.5h2M892 876.5h2M1027 876.5h2M227 850.5h4M335 850.5h6M347 850.5h4M631 850.5h6M643 850.5h4M1162 850.5h2M1432 850.5h2M530 820.5h2M543 820.5h6M536 817.5h2M556 817.5h2M567 817.5h6M534 818.5h2M538 818.5h3M554 818.5h2M59 823.5h4M65 823.5h2M330 848.5h3M353 848.5h2M368 848.5h2M432 848.5h2M626 848.5h3M651 848.5h4M1437 848.5h2M1441 848.5h2M532 819.5h2M541 819.5h2M549 819.5h5M53 824.5h6M584 824.5h2M600 824.5h3M1254 824.5h2M906 890.5h2M0 841.5h10M30 841.5h2M34 841.5h2M275 841.5h4M450 841.5h2M1191 841.5h3M1332 841.5h2M927 882.5h4M940 882.5h2M1036 882.5h2M1073 882.5h2M1125 867.5h2M728 872.5h5M741 872.5h6M1359 855.5h3M1392 855.5h3M1418 855.5h2M951 887.5h2M1046 887.5h2M1053 887.5h6M1048 888.5h5M1059 888.5h4M1065 888.5h2M1042 885.5h2M1069 885.5h2M942 881.5h2M1034 881.5h2M1075 881.5h2M209 853.5h2M221 853.5h2M1168 853.5h5M1399 853.5h14M1453 853.5h4M93 829.5h2M147 829.5h2M493 829.5h5M615 829.5h2M1237 829.5h2M1315 829.5h4M179 843.5h4M253 843.5h8M309 843.5h2M377 843.5h2M445 843.5h2M1186 843.5h3M849 870.5h2M733 871.5h8M851 871.5h2M1107 871.5h2M1117 871.5h2M75 831.5h2M88 831.5h2M123 831.5h4M150 831.5h2M1307 831.5h4M63 822.5h2M920 884.5h3M935 884.5h3M1040 884.5h2M1032 880.5h2M1087 880.5h6M908 891.5h2M894 877.5h2M824 860.5h2M1044 886.5h2M528 821.5h2M910 892.5h2M560 815.5h3M898.5 881v1M1381.5 858v1M188.5 851v3M1153.5 859v2M753.5 871v2M693.5 866v1M1302.5 830v1M317.5 853v1M234.5 845v2M431.5 847v1M1426.5 856v1M318.5 854v2M727.5 873v1M814.5 850v2M758.5 860v2M967.5 862v2M1157.5 853v2M913.5 892v1M916.5 888v2M697.5 868v1M708.5 867v2M238.5 839v2M143.5 829v2M950.5 886v1M1342.5 852v2M962.5 869v1M1321.5 829v2M788.5 860v1M954.5 883v2M1260.5 827v2M757.5 862v2M161.5 838v1M1134.5 859v1M663.5 856v1M621.5 840v2M1030.5 878v1M1294.5 825v2M162.5 839v1M583.5 823v1M320.5 858v1M780.5 861v1M897.5 879v2M1031.5 879v1M430.5 846v1M811.5 856v2M187.5 849v2M958.5 875v2M1129.5 865v1M313.5 846v2M1180.5 849v1M138.5 840v2M711.5 872v2M1102.5 871v1M704.5 861v1M662.5 854v2M1430.5 852v1M624.5 846v1M195.5 858v1M689.5 863v1M198.5 854v2M722.5 878v1M1259.5 826v1M472.5 843v1M620.5 837v3M900.5 883v2M1015.5 871v2M1068.5 886v1M1383.5 861v1M191.5 859v2M1183.5 845v1M487.5 831v1M316.5 851v2M476.5 840v1M901.5 885v1M953.5 885v2M319.5 856v2M1156.5 855v1M1384.5 862v1M822.5 856v2M480.5 837v1M237.5 841v1M522.5 830v1M525.5 825v2M707.5 866v1M1025.5 874v1M1140.5 861v2M1445.5 850v1M848.5 869v1M157.5 835v1M1026.5 875v1M661.5 853v1M965.5 865v1M244.5 839v1M1324.5 833v2M308.5 842v1M233.5 847v2M111.5 831v1M134.5 841v2M957.5 877v2M42.5 834v2M1159.5 850v2M1391.5 856v1M899.5 882v1M699.5 866v1M137.5 842v2M357.5 846v1M1132.5 861v2M389.5 835v1M1425.5 857v1M756.5 864v3M818.5 849v2M821.5 854v2M706.5 864v2M142.5 831v2M945.5 881v1M1178.5 851v2M194.5 859v2M961.5 870v2M946.5 882v1M710.5 870v2M220.5 854v1M752.5 873v1M1143.5 865v1M578.5 818v1M1323.5 832v1M149.5 830v1M1109.5 872v1M1372.5 855v1M1428.5 854v1M1155.5 856v2M190.5 856v3M579.5 819v1M509.5 831v1M1293.5 827v1M694.5 867v1M236.5 842v2M1262.5 830v1M915.5 890v1M903.5 887v2M918.5 886v1M510.5 832v1M521.5 831v2M726.5 874v1M695.5 868v1M790.5 858v1M164.5 841v1M186.5 846v3M197.5 856v1M817.5 848v1M240.5 836v1M964.5 866v2M724.5 876v1M107.5 828v1M1101.5 872v1M1322.5 831v1M669.5 860v1M213.5 855v1M1136.5 857v1M383.5 839v1M327.5 848v2M812.5 854v2M77.5 832v1M133.5 839v2M1296.5 823v1M1182.5 846v2M805.5 860v1M952.5 888v1M1235.5 831v1M755.5 867v2M1382.5 859v2M622.5 842v2M45.5 830v1M619.5 835v2M1239.5 828v1M1303.5 831v1M1177.5 853v1M163.5 840v1M820.5 853v1M1104.5 868v1M185.5 844v2M616.5 830v1M709.5 869v1M1105.5 869v1M41.5 836v2M712.5 874v1M136.5 845v1M690.5 864v1M721.5 879v1M1131.5 863v1M482.5 835v1M705.5 862v2M956.5 879v2M192.5 862v1M1261.5 829v1M1115.5 873v1M1009.5 863v2M1386.5 860v1M132.5 837v2M486.5 832v1M664.5 857v1M141.5 833v2M322.5 855v1M823.5 858v2M425.5 840v1M1158.5 852v1M1010.5 865v1M1390.5 857v1M853.5 872v1M239.5 837v2M284.5 837v1M819.5 851v2M72.5 828v1M524.5 827v1M1291.5 829v1M189.5 854v2M816.5 846v1M902.5 886v1M140.5 835v3M801.5 857v1M1325.5 835v1M135.5 843v1M701.5 864v1M815.5 848v2M44.5 831v2M1337.5 844v2M1119.5 870v1M325.5 851v1M785.5 863v1M505.5 827v1M1072.5 883v1M129.5 831v2M1100.5 873v2M527.5 822v2M1378.5 854v2M71.5 827v1M511.5 833v1M845.5 867v1M428.5 843v2M618.5 833v2M963.5 868v1M219.5 855v1M754.5 869v2M184.5 843v1M1427.5 855v1M947.5 883v1M131.5 835v2M469.5 840v1M917.5 887v1M1012.5 867v2M1110.5 873v1M523.5 828v2M1290.5 830v2M470.5 841v1M580.5 820v1M1111.5 874v1M1103.5 869v2M139.5 838v2M966.5 864v1M912.5 893v1M581.5 821v1M955.5 881v2M696.5 869v1M165.5 842v1M1137.5 858v1M1098.5 876v1M40.5 838v1M719.5 879v1M321.5 856v2M324.5 852v2M1138.5 859v1M108.5 829v1M481.5 836v1M1130.5 864v1M1152.5 861v1M1144.5 866v1M810.5 858v2M67.5 824v1M1343.5 854v2M78.5 833v1M1376.5 852v1M47.5 826v2M1297.5 824v1M1179.5 850v1M1377.5 853v1M1263.5 831v1M1298.5 825v1M427.5 842v1M617.5 831v2M199.5 853v1M703.5 862v1M723.5 877v1M787.5 861v1M1133.5 860v1M465.5 837v1M1106.5 870v1M1327.5 837v2M783.5 863v1M1338.5 846v2M658.5 849v2M1256.5 823v1M806.5 861v1M659.5 851v1M1339.5 848v1M475.5 841v1M283.5 838v1M130.5 833v2M506.5 828v1M507.5 829v1M760.5 857v1M1011.5 866v1M426.5 841v1M1429.5 853v1M1380.5 857v1M73.5 829v1M74.5 830v1M809.5 860v2M700.5 865v1M43.5 833v1M1067.5 887v1M802.5 858v1M1326.5 836v1M1071.5 884v1M376.5 844v1M791.5 857v1M479.5 838v1M949.5 885v1M1379.5 856v1M1097.5 877v2M1300.5 827v2M526.5 824v1M160.5 837v1M1301.5 829v1M582.5 822v1M779.5 860v1M1232.5 833v1M312.5 845v1M1236.5 830v1M919.5 885v1M657.5 848v1M1371.5 856v1M1289.5 832v1M380.5 841v1M68.5 825v1M914.5 891v1M725.5 875v1M698.5 867v1M1112.5 875v1M384.5 838v1M623.5 844v2M1029.5 877v1M1013.5 869v1M813.5 852v2M311.5 844v1M960.5 872v1M1116.5 872v1M896.5 878v1M471.5 842v1M314.5 848v2M429.5 845v1M1014.5 870v1M323.5 854v1M315.5 850v1M786.5 862v1M46.5 828v2M1154.5 858v1M223.5 852v1M1292.5 828v1M235.5 844v1M1181.5 848v1M1375.5 853v1M759.5 858v2M948.5 884v1M1139.5 860v1M1340.5 849v2M1424.5 858v1M1341.5 851v1M243.5 838v1M307.5 841v1M1258.5 825v1M808.5 863v1M789.5 859v1M1135.5 858v1M196.5 857v1M247.5 841v1M152.5 832v1M166.5 843v1M1077.5 880v1M326.5 850v1M720.5 880v1M167.5 844v1M1385.5 861v1M466.5 838v1M1295.5 824v1M1336.5 843v1M79.5 834v1M959.5 873v2M1431.5 851v1M1257.5 824v1M216.5 857v1M660.5 852v1M577.5 817v1M1299.5 826v1M702.5 863v1M144.5 827v1M1389.5 858v1M784.5 864v1M1141.5 863v1M485.5 833v1M944.5 880v1M1099.5 875v1M379.5 842v1M1142.5 864v1M287.5 835v1M715.5 876v1M508.5 830v1M716.5 877v1M1149.5 863v1" fill="none" stroke="#1E90FF" stroke-width="1"/></g>
<g shape-rendering="geometricPrecision"><line x1="1304.2" y1="216.0" x2="1379.8" y2="361.2" stroke="#FF0000" stroke-width="3"/><polygon points="1384.6,370.5 1375.9,363.2 1383.6,359.2" fill="#FF0000"/><line x1="1384.6" y1="370.5" x2="1426.5" y2="296.5" stroke="#FF0000" stroke-width="3"/><polygon points="1431.7,287.4 1430.3,298.7 1422.8,294.4" fill="#FF0000"/><line x1="1431.7" y1="287.4" x2="1481.0" y2="336.1" stroke="#FF0000" stroke-width="3"/><polygon points="1488.5,343.5 1478.0,339.2 1484.1,333.1" fill="#FF0000"/><line x1="1391.0" y1="659.6" x2="1471.9" y2="667.8" stroke="#FF0000" stroke-width="3"/><polygon points="1481.8,668.8 1471.4,671.8 1472.3,663.8" fill="#FF0000"/><line x1="1371.0" y1="856.3" x2="1465.5" y2="856.3" stroke="#FF0000" stroke-width="3"/><polygon points="1475.5,856.3 1465.5,860.3 1465.5,852.3" fill="#FF0000"/></g>
<rect x="1368" y="310" width="140" height="9" fill="#00FF00"/>
<rect x="0" y="24" width="1652" height="1" fill="#000"/><rect x="0" y="559" width="1652" height="1" fill="#000"/><rect x="0" y="561" width="1652" height="1" fill="#000"/><rect x="0" y="780" width="1652" height="1" fill="#000"/><rect x="0" y="782" width="1652" height="1" fill="#000"/><rect x="0" y="925" width="1652" height="1" fill="#000"/><rect x="1651" y="24" width="1" height="902" fill="#000"/><rect x="1652" y="28" width="2" height="1" fill="#000"/><rect x="1652" y="61" width="2" height="1" fill="#000"/><rect x="1652" y="94" width="2" height="1" fill="#000"/><rect x="1652" y="127" width="2" height="1" fill="#000"/><rect x="1652" y="160" width="2" height="1" fill="#000"/><rect x="1652" y="193" width="2" height="1" fill="#000"/><rect x="1652" y="226" width="2" height="1" fill="#000"/><rect x="1652" y="259" width="2" height="1" fill="#000"/><rect x="1652" y="292" width="2" height="1" fill="#000"/><rect x="1652" y="325" width="2" height="1" fill="#000"/><rect x="1652" y="358" width="2" height="1" fill="#000"/><rect x="1652" y="391" width="2" height="1" fill="#000"/><rect x="1652" y="424" width="2" height="1" fill="#000"/><rect x="1652" y="457" width="2" height="1" fill="#000"/><rect x="1652" y="490" width="2" height="1" fill="#000"/><rect x="1652" y="523" width="2" height="1" fill="#000"/><rect x="1652" y="556" width="2" height="1" fill="#000"/><rect x="1652" y="673" width="2" height="1" fill="#000"/><rect x="1652" y="812" width="2" height="1" fill="#000"/><rect x="1652" y="854" width="2" height="1" fill="#000"/><rect x="1652" y="903" width="2" height="1" fill="#000"/><rect x="1463" y="25" width="9" height="1" fill="#C0C0C0"/><rect x="1464" y="26" width="7" height="1" fill="#C0C0C0"/><rect x="1465" y="27" width="5" height="1" fill="#C0C0C0"/><rect x="1466" y="28" width="3" height="1" fill="#C0C0C0"/><rect x="1467" y="29" width="1" height="1" fill="#C0C0C0"/><rect x="56" y="926" width="1" height="3" fill="#000"/><rect x="120" y="926" width="1" height="3" fill="#000"/><rect x="184" y="926" width="1" height="3" fill="#000"/><rect x="248" y="926" width="1" height="3" fill="#000"/><rect x="312" y="926" width="1" height="3" fill="#000"/><rect x="376" y="926" width="1" height="3" fill="#000"/><rect x="440" y="926" width="1" height="3" fill="#000"/><rect x="504" y="926" width="1" height="3" fill="#000"/><rect x="568" y="926" width="1" height="3" fill="#000"/><rect x="632" y="926" width="1" height="3" fill="#000"/><rect x="696" y="926" width="1" height="3" fill="#000"/><rect x="760" y="926" width="1" height="3" fill="#000"/><rect x="824" y="926" width="1" height="3" fill="#000"/><rect x="888" y="926" width="1" height="3" fill="#000"/><rect x="952" y="926" width="1" height="3" fill="#000"/><rect x="1016" y="926" width="1" height="3" fill="#000"/><rect x="1080" y="926" width="1" height="3" fill="#000"/><rect x="1144" y="926" width="1" height="3" fill="#000"/><rect x="1208" y="926" width="1" height="3" fill="#000"/><rect x="1272" y="926" width="1" height="3" fill="#000"/><rect x="1336" y="926" width="1" height="3" fill="#000"/><rect x="1400" y="926" width="1" height="3" fill="#000"/>
</svg><div class="ax" style="left:1657px;top:23.5px;">1.37660</div>
<div class="ax" style="left:1657px;top:56.5px;">1.37400</div>
<div class="ax" style="left:1657px;top:89.5px;">1.37135</div>
<div class="ax" style="left:1657px;top:122.5px;">1.36875</div>
<div class="ax" style="left:1657px;top:155.5px;">1.36615</div>
<div class="ax" style="left:1657px;top:188.5px;">1.36355</div>
<div class="ax" style="left:1657px;top:221.5px;">1.36095</div>
<div class="ax" style="left:1657px;top:254.5px;">1.35835</div>
<div class="ax" style="left:1657px;top:287.5px;">1.35575</div>
<div class="ax" style="left:1657px;top:320.5px;">1.35315</div>
<div class="ax" style="left:1657px;top:353.5px;">1.35055</div>
<div class="ax" style="left:1657px;top:386.5px;">1.34790</div>
<div class="ax" style="left:1657px;top:419.5px;">1.34530</div>
<div class="ax" style="left:1657px;top:452.5px;">1.34270</div>
<div class="ax" style="left:1657px;top:485.5px;">1.34010</div>
<div class="ax" style="left:1657px;top:518.5px;">1.33750</div>
<div class="ax" style="left:1657px;top:551.5px;">1.33490</div>
<div class="ax" style="left:1655px;top:563.7px;">0.005014</div>
<div class="ax" style="left:1655px;top:668.5px;">0.00</div>
<div class="ax" style="left:1655px;top:769px;">-0.004812</div>
<div class="ax" style="left:1655px;top:784.1px;">100</div>
<div class="ax" style="left:1655px;top:807.5px;">80</div>
<div class="ax" style="left:1655px;top:849.5px;">50</div>
<div class="ax" style="left:1655px;top:898.5px;">15</div>
<div class="ax" style="left:1655px;top:913.5px;">0</div>
<div class="ax" style="left:-2.5px;top:566px;font-size:9.15px">MACD(12,26,9) 0.000342 0.000417</div>
<div class="ax" style="left:-3px;top:787px;font-size:9.15px">RSI(14) 50.8239</div>
<div style="position:absolute;left:1653px;top:251px;width:41px;height:11px;background:#FF4500"></div>
<div class="ax" style="left:1657px;top:251.5px;color:#fff">1.35851</div>
<div style="position:absolute;left:1653px;top:284px;width:41px;height:11px;background:#FF0000"></div>
<div class="ax" style="left:1657px;top:284.5px;color:#fff">1.35591</div>
<div style="position:absolute;left:1653px;top:310px;width:41px;height:11px;background:#32CD32"></div>
<div class="ax" style="left:1657px;top:310.5px;color:#fff">1.35386</div>
<div style="position:absolute;left:1653px;top:354px;width:41px;height:11px;background:#0000FF"></div>
<div class="ax" style="left:1657px;top:354.5px;color:#fff">1.35039</div>
<div style="position:absolute;left:1653px;top:388px;width:41px;height:11px;background:#0000FF"></div>
<div class="ax" style="left:1657px;top:388.5px;color:#fff">1.34771</div>
<div class="ax" style="left:-9px;top:929.5px;">28 Dec 2021</div>
<div class="ax" style="left:55px;top:929.5px;">29 Dec 16:00</div>
<div class="ax" style="left:119px;top:929.5px;">31 Dec 00:00</div>
<div class="ax" style="left:183px;top:929.5px;">3 Jan 08:00</div>
<div class="ax" style="left:247px;top:929.5px;">4 Jan 16:00</div>
<div class="ax" style="left:311px;top:929.5px;">6 Jan 00:00</div>
<div class="ax" style="left:375px;top:929.5px;">7 Jan 08:00</div>
<div class="ax" style="left:439px;top:929.5px;">10 Jan 16:00</div>
<div class="ax" style="left:503px;top:929.5px;">12 Jan 00:00</div>
<div class="ax" style="left:567px;top:929.5px;">13 Jan 08:00</div>
<div class="ax" style="left:631px;top:929.5px;">14 Jan 16:00</div>
<div class="ax" style="left:695px;top:929.5px;">18 Jan 00:00</div>
<div class="ax" style="left:759px;top:929.5px;">19 Jan 08:00</div>
<div class="ax" style="left:823px;top:929.5px;">20 Jan 16:00</div>
<div class="ax" style="left:887px;top:929.5px;">24 Jan 00:00</div>
<div class="ax" style="left:951px;top:929.5px;">25 Jan 08:00</div>
<div class="ax" style="left:1015px;top:929.5px;">26 Jan 16:00</div>
<div class="ax" style="left:1079px;top:929.5px;">28 Jan 00:00</div>
<div class="ax" style="left:1143px;top:929.5px;">31 Jan 08:00</div>
<div class="ax" style="left:1207px;top:929.5px;">1 Feb 16:00</div>
<div class="ax" style="left:1271px;top:929.5px;">3 Feb 00:00</div>
<div class="ax" style="left:1335px;top:929.5px;">4 Feb 08:00</div>
<div class="ax" style="left:1399px;top:929.5px;">7 Feb 16:00</div>
<div class="rl" style="left:1206px;top:197px;width:100px;height:17px;line-height:17px;font-size:16px;letter-spacing:0.15px">1.36269</div>
<div class="rl" style="left:1254px;top:353px;width:100px;height:17px;line-height:17px;font-size:16px;letter-spacing:0.15px">1.35039</div>
<div class="rl" style="left:1294px;top:372px;width:100px;height:17px;line-height:17px;font-size:16px;letter-spacing:0.15px">1.34889</div>
<div class="rl" style="left:966px;top:539px;width:100px;height:17px;line-height:17px;font-size:16px;letter-spacing:0.15px">1.33567</div>
<div class="rl" style="left:1120px;top:305.5px;width:112px;height:23px;line-height:23px;font-size:22.9px;letter-spacing:0px"><span style="display:inline-block;transform:scale(0.868,1.02);position:relative;left:0.8px">1.35386</span></div><div class="tb">
<svg width="1698" height="20" viewBox="0 0 1698 20" style="position:absolute;left:0;top:0">
<!-- left cut icon (magnifier remnant) -->
<path d="M0 12.5 L4 16.5" stroke="#d8a020" stroke-width="2.4"/><path d="M0 5 Q2.2 8 0 11.5" fill="none" stroke="#5a90d8" stroke-width="1.4"/>
<!-- separators -->
<g fill="#a0a0a0">
<rect x="12" y="0" width="1" height="18"/><rect x="301" y="0" width="1" height="19"/><rect x="339" y="0" width="1" height="18"/><rect x="396" y="0" width="1" height="18"/>
<rect x="486" y="0" width="1" height="18"/><rect x="491" y="0" width="1" height="18"/><rect x="519" y="0" width="1" height="18"/><rect x="548" y="0" width="1" height="18"/>
<rect x="669" y="0" width="1" height="19"/><rect x="679" y="0" width="1" height="18"/><rect x="736" y="0" width="1" height="18"/><rect x="975" y="0" width="1" height="19"/>
<rect x="1125" y="0" width="1" height="18"/><rect x="1236" y="0" width="1" height="19"/>
</g>
<g fill="#ffffff"><rect x="302" y="0" width="1" height="19"/><rect x="670" y="0" width="1" height="19"/><rect x="976" y="0" width="1" height="19"/></g>
<!-- grips -->
<g fill="#a4a4a4">
<rect x="305" y="1" width="3" height="1"/><rect x="305" y="3" width="3" height="1"/><rect x="305" y="5" width="3" height="1"/><rect x="305" y="7" width="3" height="1"/><rect x="305" y="9" width="3" height="1"/><rect x="305" y="11" width="3" height="1"/><rect x="305" y="13" width="3" height="1"/><rect x="305" y="15" width="3" height="1"/>
<rect x="673" y="1" width="3" height="1"/><rect x="673" y="3" width="3" height="1"/><rect x="673" y="5" width="3" height="1"/><rect x="673" y="7" width="3" height="1"/><rect x="673" y="9" width="3" height="1"/><rect x="673" y="11" width="3" height="1"/><rect x="673" y="13" width="3" height="1"/><rect x="673" y="15" width="3" height="1"/>
<rect x="979" y="1" width="3" height="1"/><rect x="979" y="3" width="3" height="1"/><rect x="979" y="5" width="3" height="1"/><rect x="979" y="7" width="3" height="1"/><rect x="979" y="9" width="3" height="1"/><rect x="979" y="11" width="3" height="1"/><rect x="979" y="13" width="3" height="1"/><rect x="979" y="15" width="3" height="1"/>
</g>
<!-- selected button backgrounds -->
<g fill="#f8f8f8"><rect x="340" y="0" width="24" height="18"/><rect x="492" y="0" width="24" height="18"/><rect x="520" y="0" width="24" height="18"/><rect x="680" y="0" width="24" height="18"/><rect x="1126" y="0" width="25" height="18"/></g>
<!-- New Order icon -->
<path d="M22.5 1.5 H31 L34 4.5 V13.5 H22.5 Z" fill="#fff" stroke="#8a8a8a" stroke-width="1"/>
<path d="M25 4.5 H28 M25 7.5 H31 M25 10.5 H29" stroke="#9a9a9a" stroke-width="1"/>
<path d="M32 6.5 V17.5 M26.5 12 H37.5" stroke="#1a8a1a" stroke-width="4.4"/>
<path d="M32 7.5 V16.5 M27.5 12 H36.5" stroke="#35d035" stroke-width="2.2"/>
<!-- book -->
<defs><linearGradient id="gb" x1="0" y1="0" x2="1" y2="1"><stop offset="0" stop-color="#fbe060"/><stop offset="0.6" stop-color="#e8b020"/><stop offset="1" stop-color="#c88810"/></linearGradient>
<linearGradient id="gy" x1="0" y1="0" x2="0" y2="1"><stop offset="0" stop-color="#fff088"/><stop offset="1" stop-color="#e8a818"/></linearGradient></defs>
<path d="M122.700 1 L133.400 7.800 L132.700 10.800 L125 16 L117.800 10.400 L121.700 5.500 Z" fill="#a87010"/>
<path d="M122.700 1.300 L133 7.800 L125.300 13.800 L118.600 9.600 L121.700 5.500 Z" fill="url(#gb)" stroke="#b88418" stroke-width="0.700"/>
<path d="M118.800 10.800 L125.200 15 L132.500 9.600" fill="none" stroke="#f0d070" stroke-width="0.800"/>
<!-- cloud/server -->
<path d="M148 0 H160.300 V9 H151 L148 7 Z" fill="#2a90f0"/><path d="M148 0 L151 2 V9 L148 7 Z" fill="#7cc0ff"/>
<rect x="153" y="3.500" width="5" height="2" fill="#d8ecff"/>
<path d="M147.500 15.300 Q145.800 14.500 146.500 12.500 Q147 10.500 149.500 10.800 Q150.500 8 153.800 8.600 Q156 8.200 157 10 Q160 9.200 160.600 11.500 Q162.600 12 162 14 Q161.800 15.500 160 15.500 Z" fill="#eef2fa" stroke="#5878b8" stroke-width="1"/>
<!-- signal -->
<path d="M181.600 0.200 A7.600 7.600 0 0 1 181.600 15.400" fill="none" stroke="#a8d4b4" stroke-width="1.300"/>
<path d="M181.600 15.400 A7.600 7.600 0 0 1 181.600 0.200" fill="none" stroke="#a8c0ec" stroke-width="1.100"/>
<path d="M181.600 3 A4.800 4.800 0 0 1 186.400 7.800 Q186.400 11 183 12.400" fill="none" stroke="#98c8a4" stroke-width="1.300"/>
<path d="M181.600 12.600 A4.800 4.800 0 0 1 181.600 3" fill="none" stroke="#7c9ce4" stroke-width="1.200"/>
<circle cx="181.700" cy="7.600" r="2" fill="#2050c8"/>
<rect x="181.800" y="8" width="1.800" height="7.700" fill="#28a028"/>
<!-- autotrading -->
<path d="M201.600 5.500 L216.800 5.500 L213 12 L208.600 16 L204.500 11 Z" fill="url(#gy)" stroke="#d0a020" stroke-width="0.600"/>
<ellipse cx="209.200" cy="4.200" rx="7.800" ry="2.700" fill="#58a8e8" stroke="#2878c0" stroke-width="0.700"/>
<path d="M205.300 3.600 Q206 0 209.200 -0.500 Q212.400 0 213.100 3.600 Q209.200 5.200 205.300 3.600Z" fill="#78bcf0"/>
<circle cx="213.400" cy="11.700" r="4" fill="#e02010"/><rect x="211.900" y="10.200" width="3" height="3" fill="#fff"/>
<!-- bar chart icon -->
<g stroke="#505050" stroke-width="1.2" fill="none"><path d="M319.5 2 V15.5 M317 13.5 H331"/><path d="M318.0 3.8 L319.5 1.6 L321.0 3.8 M328.8 12 L331 13.5 L328.8 15" stroke-width="1"/></g>
<path d="M323.5 10.5 H326 V4.5 H328.5" fill="none" stroke="#168016" stroke-width="1.3"/>
<!-- candle icon -->
<g stroke="#505050" stroke-width="1.2" fill="none"><path d="M347.5 2 V15.5 M345 13.5 H359"/><path d="M346.0 3.8 L347.5 1.6 L349.0 3.8 M356.8 12 L359 13.5 L356.8 15" stroke-width="1"/></g>
<path d="M353.5 0 V12" stroke="#1a7a1a" stroke-width="1.2"/><rect x="351.5" y="2.5" width="4" height="7" fill="#35d035" stroke="#1a8a1a" stroke-width="1"/>
<!-- line icon -->
<g stroke="#505050" stroke-width="1.2" fill="none"><path d="M375.500 2 V15.5 M373 13.5 H387"/><path d="M374.0 3.8 L375.5 1.6 L377.0 3.8 M384.8 12 L387 13.5 L384.8 15" stroke-width="1"/></g>
<path d="M376 10.500 Q380 3 382 5 T386 9.500" fill="none" stroke="#1a8a1a" stroke-width="1.4"/>
<!-- zoom in -->
<path d="M415 9.500 L420 14.500" stroke="#d8a828" stroke-width="2.6" stroke-linecap="round"/>
<circle cx="411" cy="5.800" r="5" fill="#d8ecfc" stroke="#4a88d0" stroke-width="1.3"/><path d="M408 5.800 H414 M411 2.800 V8.800" stroke="#2868c0" stroke-width="1.5"/>
<!-- zoom out -->
<path d="M443 9.500 L448 14.500" stroke="#d8a828" stroke-width="2.6" stroke-linecap="round"/>
<circle cx="439" cy="5.800" r="5" fill="#d8ecfc" stroke="#4a88d0" stroke-width="1.3"/><path d="M436 5.800 H442" stroke="#2868c0" stroke-width="1.5"/>
<!-- tile -->
<rect x="461" y="0" width="8" height="8" fill="#48a828"/><rect x="469" y="0" width="8" height="8" fill="#2858c8"/><rect x="461" y="8" width="8" height="8" fill="#2858c8"/><rect x="469" y="8" width="8" height="8" fill="#48a828"/>
<g fill="#e8f4e0"><rect x="463" y="3" width="4" height="1"/><rect x="463" y="5" width="4" height="2"/><rect x="471" y="3" width="4" height="1"/><rect x="471" y="5" width="4" height="2"/><rect x="463" y="11" width="4" height="1"/><rect x="463" y="13" width="4" height="2"/><rect x="471" y="11" width="4" height="1"/><rect x="471" y="13" width="4" height="2"/></g>
<!-- autoscroll -->
<g stroke="#505050" stroke-width="1.2" fill="none"><path d="M499.500 2 V15.5 M497 13.5 H511"/><path d="M498.0 3.8 L499.500 1.6 L501.0 3.8 M508.8 12 L511 13.5 L508.8 15" stroke-width="1"/></g>
<path d="M504.500 4.500 V10.500 L508 7.500 Z" fill="#8ae08a" stroke="#1a9a1a" stroke-width="1"/>
<!-- chart shift -->
<g stroke="#505050" stroke-width="1.2" fill="none"><path d="M527.500 2 V15.5 M525 13.5 H539"/><path d="M526.0 3.8 L527.500 1.6 L529.0 3.8 M536.8 12 L539 13.5 L536.8 15" stroke-width="1"/></g>
<path d="M533.500 2 V12" stroke="#2868a8" stroke-width="1.2"/><path d="M539 7.500 H535 M536.800 5.500 L534.800 7.500 L536.800 9.500" fill="none" stroke="#e04818" stroke-width="1.2"/>
<!-- indicators -->
<path d="M559.500 1.500 H566 L569 4.500 V12.500 H559.500 Z" fill="#fff" stroke="#8a8a8a" stroke-width="1"/>
<path d="M562 4 V9 M562 6.500 H565" stroke="#707070" stroke-width="1"/>
<path d="M568.500 7 V17 M563.500 12 H573.500" stroke="#1a8a1a" stroke-width="4"/><path d="M568.500 8 V16 M564.500 12 H572.500" stroke="#35d035" stroke-width="2"/>
<path d="M580 7.500 H585.500 L582.750 10.200 Z" fill="#000"/>
<!-- clock -->
<circle cx="604" cy="7.800" r="7.500" fill="#2878d8" stroke="#1850a8" stroke-width="1"/><circle cx="604" cy="7.800" r="5.200" fill="#f4f8ff"/>
<path d="M604 4 V8 H607" fill="none" stroke="#404040" stroke-width="1.1"/>
<path d="M619 7.500 H624.500 L621.750 10.200 Z" fill="#000"/>
<!-- templates -->
<rect x="635.500" y="1.500" width="15" height="13" fill="#fff" stroke="#3868c0" stroke-width="1"/><rect x="636" y="2" width="14" height="2" fill="#5890e0"/><rect x="636" y="8.500" width="14" height="1" fill="#7aa8e0"/>
<path d="M637.500 7.500 L640 6 L642 7 L644 5.500 L646 6.300 L649 5" fill="none" stroke="#a83010" stroke-width="1.2"/>
<path d="M637.500 12.800 L640 11.500 L642 12.800 L645 10.500 L648 12.500" fill="none" stroke="#189818" stroke-width="1.2"/>
<path d="M658 7.500 H663.500 L660.750 10.200 Z" fill="#000"/>
<!-- cursor -->
<path d="M687 1.200 V13 L690 10.500 L692.500 15.200 L694.500 14.200 L692.300 9.700 L696 9.500 Z" fill="#505050"/>
<!-- crosshair -->
<path d="M719.500 1 V16 M712 8.500 H727" stroke="#606060" stroke-width="1"/><rect x="719" y="8" width="1" height="1" fill="#f0f0f0"/>
<!-- vline / hline / trend -->
<path d="M753.500 2 V15" stroke="#505050" stroke-width="1"/><path d="M776 8.500 H788" stroke="#505050" stroke-width="1"/><path d="M804 15 L816 2.500" stroke="#505050" stroke-width="1.1"/>
<!-- channel -->
<g stroke="#505050" stroke-width="0.9" fill="none"><path d="M830 10 L842 0.500 M832 14 L844 4"/><path d="M833 8 L832.500 13 M835.500 6 L835 11.500 M838 4 L837.500 9.500 M840.500 2 L840 7.500 M842 0 L843.500 5"/></g>
<path d="M841.500 12 V16.500 M841.500 12.500 H845 M841.500 14.300 H844.300 M841.500 16 H845" stroke="#303030" stroke-width="1" fill="none"/>
<!-- fibo -->
<g stroke="#606060" stroke-width="1" stroke-dasharray="1,1"><path d="M859 1.500 H873 M859 4.500 H873 M859 8.500 H873 M859 12.500 H867"/></g>
<path d="M869.500 12 V16.500 M869.500 12.500 H873 M869.500 14.500 H872.300" stroke="#303030" stroke-width="1" fill="none"/>
<!-- T label -->
<rect x="916.500" y="2.500" width="11" height="12" fill="none" stroke="#606060" stroke-width="1" stroke-dasharray="1,1"/>
<path d="M918.500 5.500 H925.500 M922 5.500 V13" stroke="#505050" stroke-width="1.4" fill="none"/>
<!-- arrows icon -->
<path d="M943.500 6 L947 2.500 L950.500 6 L947 8 Z" fill="#404040"/><path d="M950.500 11.500 L954 9 L957.500 11.500 L954 15 Z" fill="#404040"/><path d="M945 8.500 L948.500 12 L953 6" fill="none" stroke="#404040" stroke-width="1.3"/>
<path d="M964.500 7.500 H970 L967.250 10.200 Z" fill="#000"/>
<!-- search -->
<path d="M1651 8 L1646 13" stroke="#2850c0" stroke-width="2.4" stroke-linecap="round"/><circle cx="1654" cy="5" r="3.600" fill="#f0f0f0" stroke="#2858d0" stroke-width="1.300"/>
<!-- chat -->
<path d="M1671 7 Q1676 4 1682 7.500 Q1684 12 1679 14 L1675.500 14.500 L1673.500 16.800 L1673.300 14.300 Q1669.500 12.500 1671 7Z" fill="#e4e4e4" stroke="#c0c0c0" stroke-width="0.800"/>
<circle cx="1684.500" cy="6" r="8.100" fill="#dc3a1e"/>
</svg>
<div class="tt" style="left:42px;top:0px;font-size:12.500px;line-height:14px;letter-spacing:0.400px">New Order</div>
<div class="tt" style="left:222px;top:0px;font-size:12.500px;line-height:14px;letter-spacing:0.400px">AutoTrading</div>
<div class="tt" style="left:889.5px;top:1.5px;font-size:13px;line-height:14px;color:#555">A</div>
<div class="tf" style="left:990px">M1</div><div class="tf" style="left:1018.500px">M5</div><div class="tf" style="left:1044.500px">M15</div><div class="tf" style="left:1072.500px">M30</div><div class="tf" style="left:1103.500px">H1</div><div class="tf" style="left:1130px">H4</div><div class="tf" style="left:1159.500px">D1</div><div class="tf" style="left:1187px">W1</div><div class="tf" style="left:1213.500px">MN</div>
<div class="tt" style="left:1681px;top:-1px;font-size:12.500px;line-height:14px;color:#fff">1</div>
</div>
<div style="position:absolute;left:0;top:19px;width:1698px;height:1px;background:#f9f9f9"></div>
<div style="position:absolute;left:0;top:20px;width:1698px;height:1px;background:#b6b6b6"></div>
<div style="position:absolute;left:0;top:21px;width:1697px;height:1px;background:#6a6a6a"></div>
<div style="position:absolute;left:1697px;top:21px;width:1px;height:921px;background:#e6e6e6"></div>
<div class="ax" style="left:7px;top:28px;font-size:9.300px;word-spacing:0px">GBPUSD-,H4&nbsp; 1.35416 1.35518 1.35386 1.35386</div>
<svg width="4" height="6" style="position:absolute;left:0;top:30px"><path d="M0 5 L1.500 1.500 L3 5 Z" fill="#000"/></svg>
<div style="position:absolute;left:0;top:44px;width:214px;height:57px;background:#fff"></div>
<div style="position:absolute;left:0;top:44px;width:46px;height:24px;background:linear-gradient(#5c5cf4,#3434d8)"></div>
<div style="position:absolute;left:162px;top:44px;width:52px;height:24px;background:linear-gradient(#5c5cf4,#3434d8)"></div>
<div style="position:absolute;left:0;top:68px;width:104px;height:33px;background:linear-gradient(#3030d4,#0000a4)"></div>
<div style="position:absolute;left:106px;top:68px;width:108px;height:33px;background:linear-gradient(#3030d4,#0000a4)"></div>
<div style="position:absolute;left:0;top:67px;width:43px;height:1px;background:#8c8cf8"></div>
<div style="position:absolute;left:166px;top:67px;width:44px;height:1px;background:#8c8cf8"></div>
<div style="position:absolute;left:49px;top:44px;width:110px;height:21px;background:#fff;border:1px solid #aaa;box-sizing:content-box"></div>
<div style="position:absolute;left:51px;top:46px;width:18px;height:18px;background:linear-gradient(#f0f0f0,#c8c8c8);border:1px solid #b4b4b4;box-sizing:border-box"></div>
<div style="position:absolute;left:139px;top:46px;width:20px;height:18px;background:linear-gradient(#f0f0f0,#c8c8c8);border:1px solid #b4b4b4;box-sizing:border-box"></div>
<svg width="214" height="60" style="position:absolute;left:0;top:44px"><path d="M57 9.500 H62.500 L59.750 12.500 Z" fill="#4860c0"/><path d="M146 12 H151.500 L148.750 9 Z" fill="#4860c0"/></svg>
<div class="tt" style="left:101.5px;top:47.7px;width:34px;text-align:right;font-size:12.500px;line-height:14px">1.00</div>
<div class="pn" style="left:7.500px;top:49.5px;font-size:11.5px;line-height:13px;letter-spacing:-0.6px">SELL</div>
<div class="pn" style="left:175px;top:49.5px;font-size:11.5px;line-height:13px;letter-spacing:-0.3px">BUY</div>
<div class="pn" style="left:15.5px;top:85.5px;font-size:12px;line-height:13px;font-weight:bold">1.35</div>
<div class="pn" style="left:125.5px;top:85.5px;font-size:12px;line-height:13px;font-weight:bold">1.35</div>
<div class="pn" style="left:43px;top:65px;font-size:34px;line-height:37px;transform:scaleX(0.905);transform-origin:0 0">38</div>
<div class="pn" style="left:152px;top:65px;font-size:34px;line-height:37px;transform:scaleX(0.905);transform-origin:0 0">46</div>
<div class="pn" style="left:82px;top:69px;font-size:10.500px;line-height:12px;font-weight:bold">6</div>
<div class="pn" style="left:193px;top:69px;font-size:10.500px;line-height:12px;font-weight:bold">2</div>
</body></html>
